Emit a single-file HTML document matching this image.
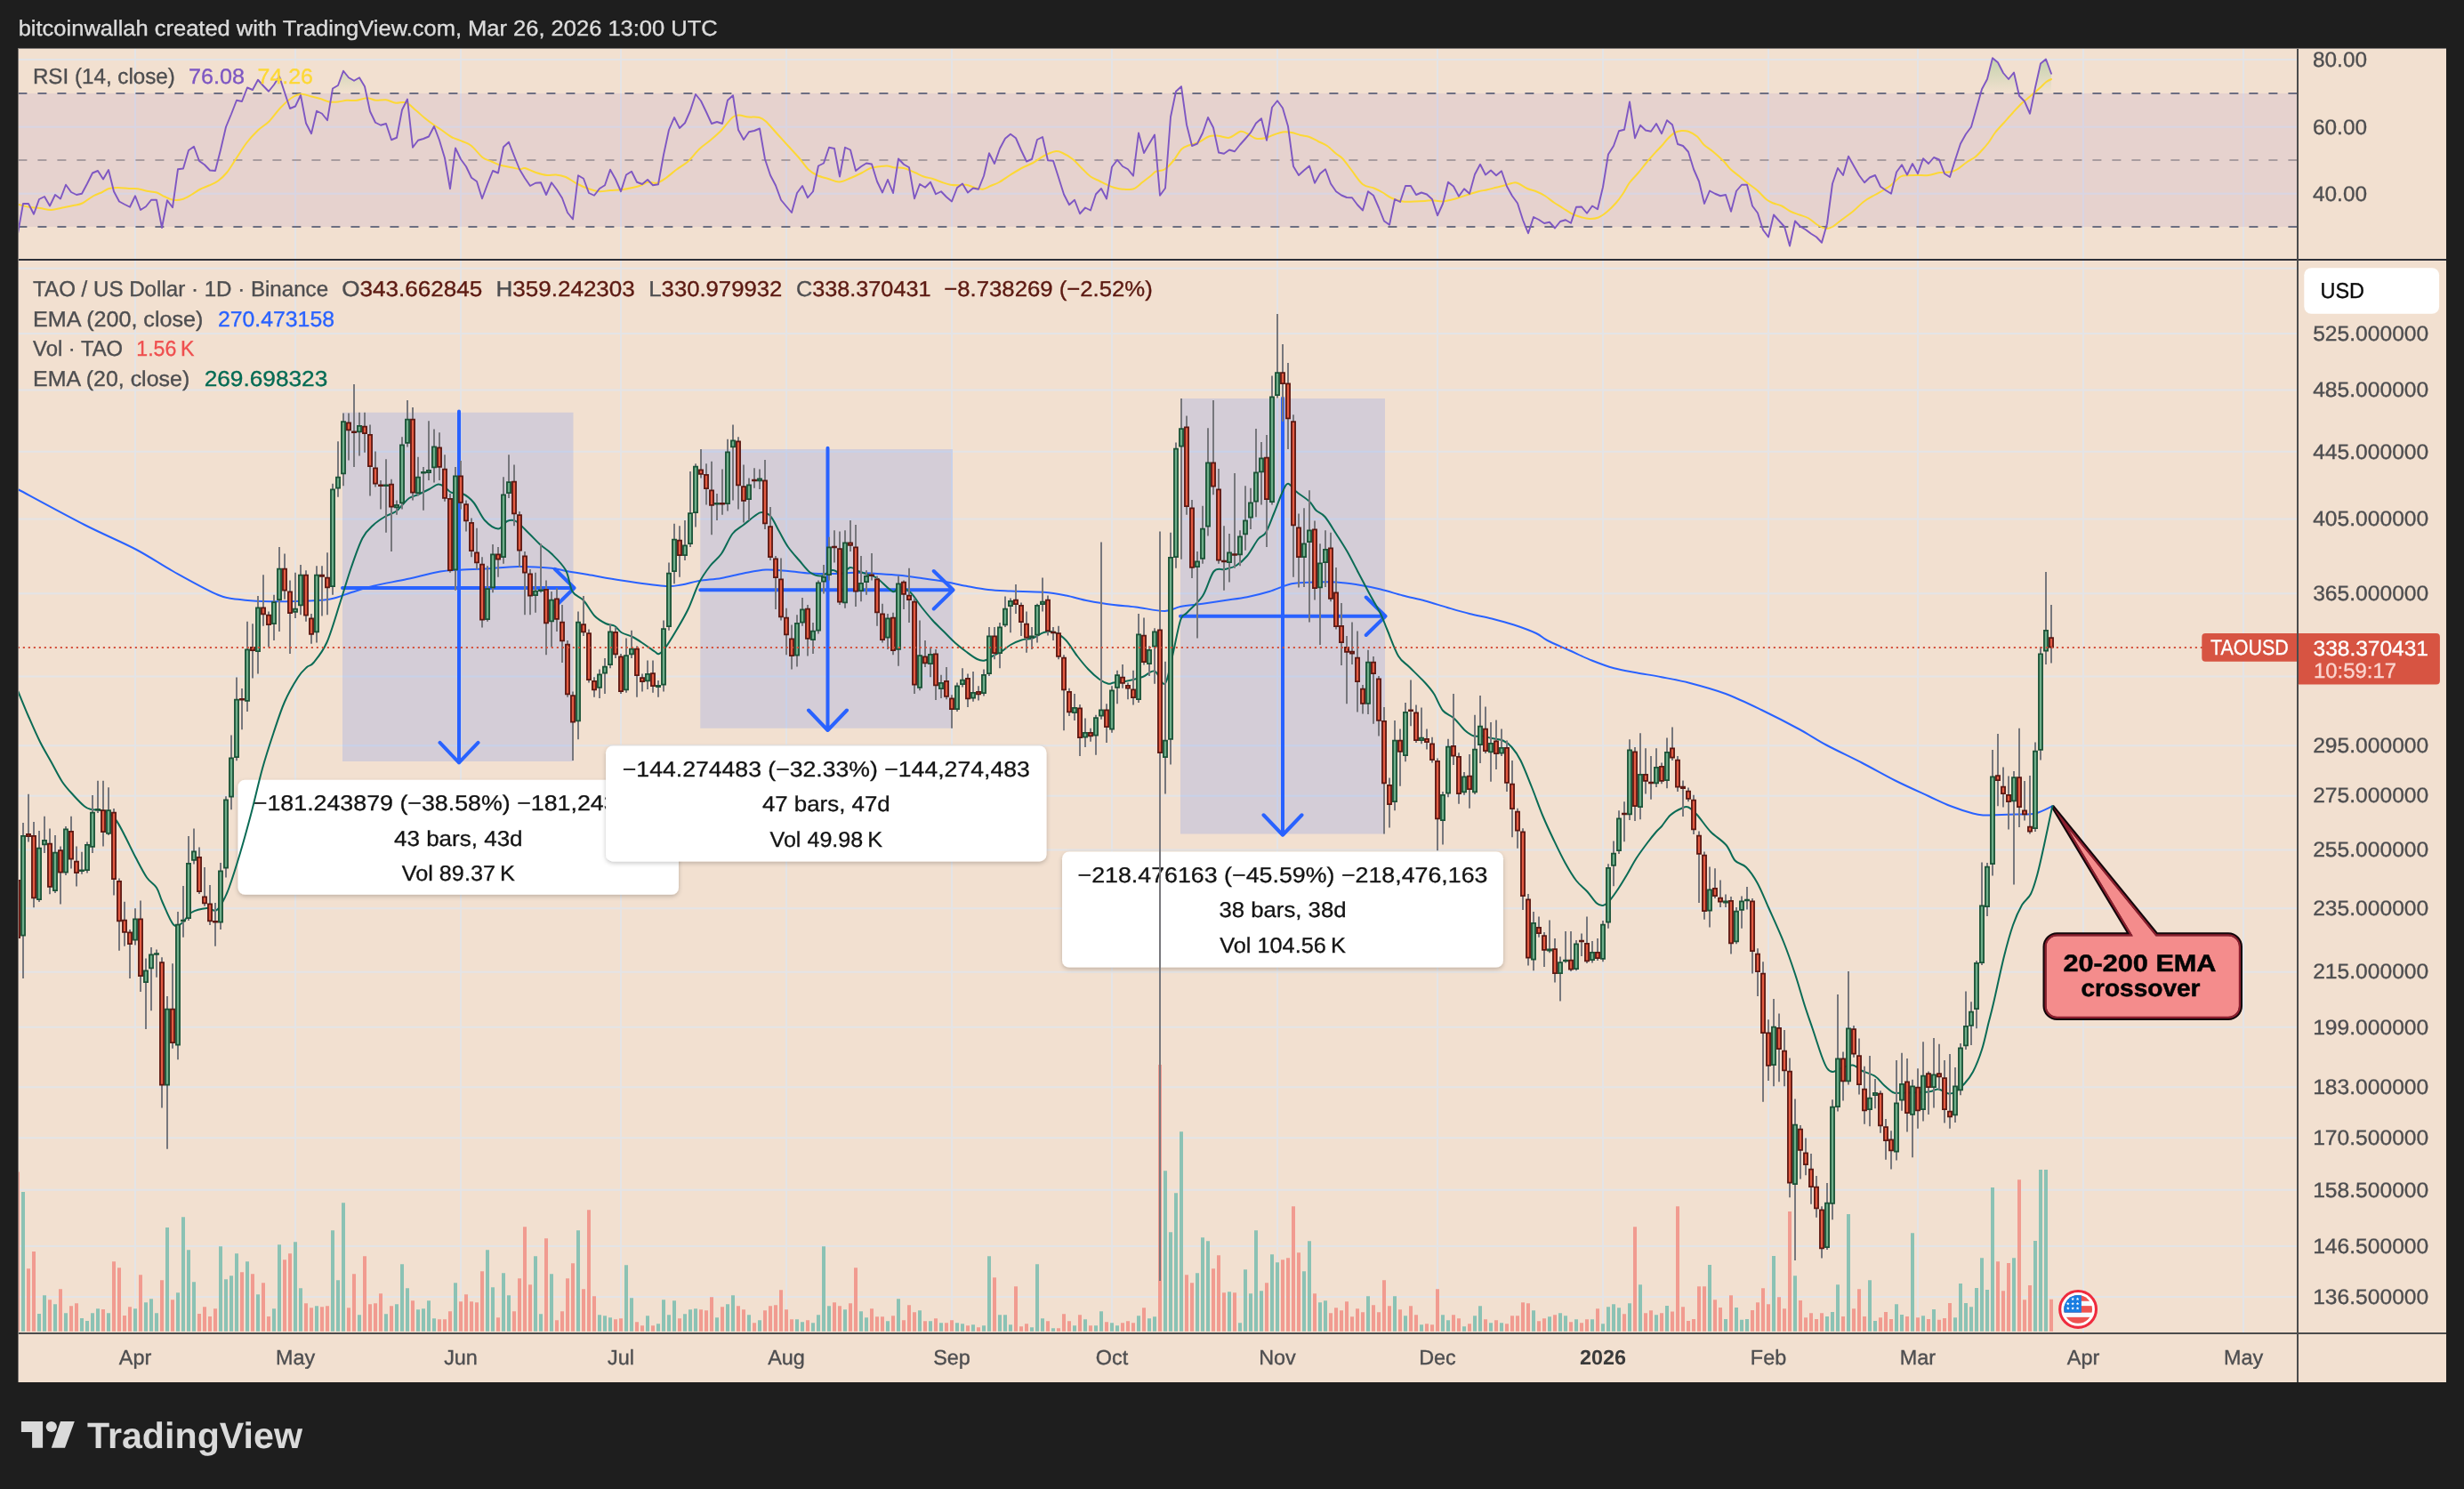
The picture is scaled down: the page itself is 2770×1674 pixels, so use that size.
<!DOCTYPE html>
<html><head><meta charset="utf-8"><title>TAOUSD chart</title>
<style>html,body{margin:0;padding:0;background:#1e1e1e;}body{width:2770px;height:1674px;position:relative;overflow:hidden;font-family:"Liberation Sans", sans-serif;}</style>
</head><body>
<svg width="2770" height="1674" viewBox="0 0 2770 1674" style="position:absolute;left:0;top:0;will-change:transform" text-rendering="geometricPrecision" font-family='"Liberation Sans", sans-serif'>
<defs>
<clipPath id="cm"><rect x="20" y="293" width="2562" height="1205"/></clipPath>
<clipPath id="cr"><rect x="20" y="54" width="2562" height="237"/></clipPath>
<clipPath id="ct"><rect x="20" y="54" width="2562" height="51"/></clipPath>
<clipPath id="cb"><rect x="20" y="255" width="2562" height="36"/></clipPath>
<linearGradient id="gg" gradientUnits="userSpaceOnUse" x1="0" y1="-8" x2="0" y2="105"><stop offset="0" stop-color="#4caf50" stop-opacity="0.8"/><stop offset="1" stop-color="#4caf50" stop-opacity="0"/></linearGradient>
<linearGradient id="gr" gradientUnits="userSpaceOnUse" x1="0" y1="255" x2="0" y2="368"><stop offset="0" stop-color="#ff5252" stop-opacity="0"/><stop offset="1" stop-color="#ff5252" stop-opacity="0.8"/></linearGradient>
<filter id="sh" x="-5%" y="-10%" width="110%" height="130%"><feDropShadow dx="0" dy="2" stdDeviation="2.5" flood-color="#000" flood-opacity="0.22"/></filter>
<clipPath id="cf"><circle cx="2336.1" cy="1471.95" r="15.9"/></clipPath>
</defs>
<rect width="2770" height="1674" fill="#1e1e1e"/>
<rect x="20" y="54" width="2730" height="1500" fill="#f2e0d0"/>
<path d="M151 54h2v237h-2zM151 293h2v1205h-2zM331 54h2v237h-2zM331 293h2v1205h-2zM517 54h2v237h-2zM517 293h2v1205h-2zM697 54h2v237h-2zM697 293h2v1205h-2zM883 54h2v237h-2zM883 293h2v1205h-2zM1069 54h2v237h-2zM1069 293h2v1205h-2zM1249 54h2v237h-2zM1249 293h2v1205h-2zM1435 54h2v237h-2zM1435 293h2v1205h-2zM1615 54h2v237h-2zM1615 293h2v1205h-2zM1801 54h2v237h-2zM1801 293h2v1205h-2zM1987 54h2v237h-2zM1987 293h2v1205h-2zM2155 54h2v237h-2zM2155 293h2v1205h-2zM2341 54h2v237h-2zM2341 293h2v1205h-2zM2521 54h2v237h-2zM2521 293h2v1205h-2zM20 66h2562v2h-2562zM20 141.75h2562v2h-2562zM20 216.75h2562v2h-2562zM20 300.76h2562v2h-2562zM20 373.9h2562v2h-2562zM20 437.62h2562v2h-2562zM20 506.82h2562v2h-2562zM20 582.55h2562v2h-2562zM20 666.15h2562v2h-2562zM20 759.48h2562v2h-2562zM20 837.34h2562v2h-2562zM20 893.79h2562v2h-2562zM20 954.5h2562v2h-2562zM20 1020.17h2562v2h-2562zM20 1091.68h2562v2h-2562zM20 1153.86h2562v2h-2562zM20 1221.25h2562v2h-2562zM20 1278.13h2562v2h-2562zM20 1336.81h2562v2h-2562zM20 1400.1h2562v2h-2562zM20 1456.95h2562v2h-2562z" fill="#e4e4e6"/>
<rect x="20" y="105" width="2562" height="150" fill="#7e57c2" fill-opacity="0.1"/>
<path d="M20.4 105H2582" stroke="#6d6f82" stroke-width="2" stroke-dasharray="10 12"/>
<path d="M20.4 255H2582" stroke="#6d6f82" stroke-width="2" stroke-dasharray="10 12"/>
<path d="M20.4 180H2582" stroke="#a89c9f" stroke-width="2" stroke-dasharray="10 12"/>
<polygon clip-path="url(#ct)" points="20,105 20,262.75 26,229 32,229 38,240.75 44,224 50,221 56,231.5 62,219 68,223.5 74,207.75 80,216 86,219 92,217.75 98,206.5 104,194.5 110,192 116,201.5 122,191 128,215.25 134,226.5 140,229.75 146,232.75 152,220.25 158,236 164,232.25 170,224.75 176,224.75 182,256 188,225.25 194,233.25 200,190.25 206,189.5 212,169 218,164.75 224,181 230,185.25 236,191.5 242,192 248,168.5 254,142.75 260,128.25 266,112.75 272,114 278,98.5 284,101 290,89.75 296,96.5 302,102.75 308,95.25 314,85.75 320,104 326,122 332,119.5 338,107 344,138.5 350,150.25 356,124.75 362,127.75 368,135.25 374,99.5 380,96 386,79.75 392,87.25 398,90.75 404,87.25 410,97.25 416,125.25 422,137.75 428,140.75 434,139 440,157.25 446,154.75 452,123.5 458,111.5 464,165.75 470,157.75 476,156 482,153.5 488,142 494,157.75 500,177.75 506,212.25 512,166.5 518,179 524,187.25 530,199.75 536,204 542,223.25 548,207 554,192 560,194.5 566,165.25 572,159.75 578,175.25 584,190.25 590,200.25 596,209 602,205.75 608,205.25 614,219 620,205.25 626,213.25 632,222.75 638,239 644,246.5 650,197.25 656,200.75 662,217 668,219.75 674,212 680,208.25 686,190.75 692,201.5 698,215.25 704,196.5 710,192.75 716,204.75 722,207 728,202 734,208.25 740,207.25 746,174 752,146 758,132 764,144 770,138.25 776,124.5 782,106 788,113.5 794,126 800,139 806,137 812,139 818,112.75 824,107.25 830,146 836,157 842,148.25 848,147 854,144.5 860,179 866,197 872,208.5 878,224.75 884,232 890,239 896,217 902,209 908,222.25 914,215.25 920,186.5 926,183.5 932,165.75 938,167 944,198.5 950,165.75 956,168.5 962,192 968,187.25 974,183.5 980,184.5 986,204 992,216.5 998,202 1004,217 1010,178.5 1016,184.75 1022,188.25 1028,223.25 1034,207 1040,210.75 1046,204.75 1052,218.25 1058,215.25 1064,221.5 1070,226.5 1076,211 1082,206.5 1088,216.5 1094,211.5 1100,212.75 1106,197.75 1112,172.25 1118,184 1124,167 1130,155.75 1136,150.75 1142,155.25 1148,169 1154,181.5 1160,179 1166,157 1172,154 1178,180.25 1184,180.75 1190,199.5 1196,218.5 1202,230.25 1208,224.75 1214,240.25 1220,233.5 1226,236.5 1232,218.25 1238,212 1244,223.5 1250,187.75 1256,179.75 1262,187 1268,190.25 1274,197.75 1280,149.5 1286,172 1292,161.5 1298,151.5 1304,219.75 1310,211.5 1316,131.5 1322,102.75 1328,97.25 1334,140.25 1340,164 1346,161.5 1352,149.5 1358,132 1364,143.5 1370,171.5 1376,172.75 1382,168.5 1388,170.25 1394,162.75 1400,156 1406,149 1412,138.5 1418,133.25 1424,157.75 1430,120.75 1436,113.25 1442,121.5 1448,142 1454,187 1460,197 1466,191.5 1472,186.5 1478,205.75 1484,195.25 1490,190.25 1496,206.5 1502,215.25 1508,219.5 1514,222 1520,222.25 1526,230.25 1532,236.5 1538,215.25 1544,219.75 1550,233.5 1556,248.5 1562,252.75 1568,224 1574,227 1580,209 1586,209 1592,219 1598,216.5 1604,218.5 1610,224 1616,242.25 1622,229 1628,204.75 1634,209.5 1640,220.75 1646,212.25 1652,217.75 1658,196 1664,184.75 1670,196.5 1676,191.5 1682,197.25 1688,192.25 1694,209.5 1700,220.25 1706,228.5 1712,247.25 1718,262.25 1724,244 1730,247 1736,251 1742,249.75 1748,256.5 1754,249 1760,247.25 1766,250.75 1772,232.75 1778,232.5 1784,239.75 1790,231.5 1796,235.25 1802,210.25 1808,173.5 1814,164 1820,147.25 1826,145.75 1832,114.5 1838,155.25 1844,140.75 1850,146.5 1856,147.75 1862,139 1868,150.25 1874,135.25 1880,140.25 1886,162 1892,164 1898,170.75 1904,190.25 1910,204 1916,229 1922,214.5 1928,217.75 1934,220.25 1940,219 1946,237.75 1952,214.75 1958,207.75 1964,207.75 1970,231.5 1976,239.5 1982,258.5 1988,266.5 1994,241.5 2000,248.25 2006,254.75 2012,276.5 2018,248.5 2024,254.75 2030,258.25 2036,262.75 2042,266.5 2048,272.75 2054,251.5 2060,206.5 2066,189 2072,197 2078,175.75 2084,186.5 2090,197 2096,205.25 2102,199.5 2108,197 2114,209.75 2120,214 2126,217.75 2132,193.5 2138,185.25 2144,196.5 2150,184 2156,195.25 2162,178.25 2168,184 2174,177 2180,179.5 2186,195.25 2192,199 2198,179.75 2204,161.5 2210,150.75 2216,142.75 2222,121.5 2228,100.25 2234,89 2240,65.25 2246,70.25 2252,82 2258,89 2264,81.5 2270,107.75 2276,114 2282,127.75 2288,98.5 2294,71.5 2300,66.5 2306,82.75 2306,105" fill="url(#gg)"/>
<polygon clip-path="url(#cb)" points="20,255 20,262.75 26,229 32,229 38,240.75 44,224 50,221 56,231.5 62,219 68,223.5 74,207.75 80,216 86,219 92,217.75 98,206.5 104,194.5 110,192 116,201.5 122,191 128,215.25 134,226.5 140,229.75 146,232.75 152,220.25 158,236 164,232.25 170,224.75 176,224.75 182,256 188,225.25 194,233.25 200,190.25 206,189.5 212,169 218,164.75 224,181 230,185.25 236,191.5 242,192 248,168.5 254,142.75 260,128.25 266,112.75 272,114 278,98.5 284,101 290,89.75 296,96.5 302,102.75 308,95.25 314,85.75 320,104 326,122 332,119.5 338,107 344,138.5 350,150.25 356,124.75 362,127.75 368,135.25 374,99.5 380,96 386,79.75 392,87.25 398,90.75 404,87.25 410,97.25 416,125.25 422,137.75 428,140.75 434,139 440,157.25 446,154.75 452,123.5 458,111.5 464,165.75 470,157.75 476,156 482,153.5 488,142 494,157.75 500,177.75 506,212.25 512,166.5 518,179 524,187.25 530,199.75 536,204 542,223.25 548,207 554,192 560,194.5 566,165.25 572,159.75 578,175.25 584,190.25 590,200.25 596,209 602,205.75 608,205.25 614,219 620,205.25 626,213.25 632,222.75 638,239 644,246.5 650,197.25 656,200.75 662,217 668,219.75 674,212 680,208.25 686,190.75 692,201.5 698,215.25 704,196.5 710,192.75 716,204.75 722,207 728,202 734,208.25 740,207.25 746,174 752,146 758,132 764,144 770,138.25 776,124.5 782,106 788,113.5 794,126 800,139 806,137 812,139 818,112.75 824,107.25 830,146 836,157 842,148.25 848,147 854,144.5 860,179 866,197 872,208.5 878,224.75 884,232 890,239 896,217 902,209 908,222.25 914,215.25 920,186.5 926,183.5 932,165.75 938,167 944,198.5 950,165.75 956,168.5 962,192 968,187.25 974,183.5 980,184.5 986,204 992,216.5 998,202 1004,217 1010,178.5 1016,184.75 1022,188.25 1028,223.25 1034,207 1040,210.75 1046,204.75 1052,218.25 1058,215.25 1064,221.5 1070,226.5 1076,211 1082,206.5 1088,216.5 1094,211.5 1100,212.75 1106,197.75 1112,172.25 1118,184 1124,167 1130,155.75 1136,150.75 1142,155.25 1148,169 1154,181.5 1160,179 1166,157 1172,154 1178,180.25 1184,180.75 1190,199.5 1196,218.5 1202,230.25 1208,224.75 1214,240.25 1220,233.5 1226,236.5 1232,218.25 1238,212 1244,223.5 1250,187.75 1256,179.75 1262,187 1268,190.25 1274,197.75 1280,149.5 1286,172 1292,161.5 1298,151.5 1304,219.75 1310,211.5 1316,131.5 1322,102.75 1328,97.25 1334,140.25 1340,164 1346,161.5 1352,149.5 1358,132 1364,143.5 1370,171.5 1376,172.75 1382,168.5 1388,170.25 1394,162.75 1400,156 1406,149 1412,138.5 1418,133.25 1424,157.75 1430,120.75 1436,113.25 1442,121.5 1448,142 1454,187 1460,197 1466,191.5 1472,186.5 1478,205.75 1484,195.25 1490,190.25 1496,206.5 1502,215.25 1508,219.5 1514,222 1520,222.25 1526,230.25 1532,236.5 1538,215.25 1544,219.75 1550,233.5 1556,248.5 1562,252.75 1568,224 1574,227 1580,209 1586,209 1592,219 1598,216.5 1604,218.5 1610,224 1616,242.25 1622,229 1628,204.75 1634,209.5 1640,220.75 1646,212.25 1652,217.75 1658,196 1664,184.75 1670,196.5 1676,191.5 1682,197.25 1688,192.25 1694,209.5 1700,220.25 1706,228.5 1712,247.25 1718,262.25 1724,244 1730,247 1736,251 1742,249.75 1748,256.5 1754,249 1760,247.25 1766,250.75 1772,232.75 1778,232.5 1784,239.75 1790,231.5 1796,235.25 1802,210.25 1808,173.5 1814,164 1820,147.25 1826,145.75 1832,114.5 1838,155.25 1844,140.75 1850,146.5 1856,147.75 1862,139 1868,150.25 1874,135.25 1880,140.25 1886,162 1892,164 1898,170.75 1904,190.25 1910,204 1916,229 1922,214.5 1928,217.75 1934,220.25 1940,219 1946,237.75 1952,214.75 1958,207.75 1964,207.75 1970,231.5 1976,239.5 1982,258.5 1988,266.5 1994,241.5 2000,248.25 2006,254.75 2012,276.5 2018,248.5 2024,254.75 2030,258.25 2036,262.75 2042,266.5 2048,272.75 2054,251.5 2060,206.5 2066,189 2072,197 2078,175.75 2084,186.5 2090,197 2096,205.25 2102,199.5 2108,197 2114,209.75 2120,214 2126,217.75 2132,193.5 2138,185.25 2144,196.5 2150,184 2156,195.25 2162,178.25 2168,184 2174,177 2180,179.5 2186,195.25 2192,199 2198,179.75 2204,161.5 2210,150.75 2216,142.75 2222,121.5 2228,100.25 2234,89 2240,65.25 2246,70.25 2252,82 2258,89 2264,81.5 2270,107.75 2276,114 2282,127.75 2288,98.5 2294,71.5 2300,66.5 2306,82.75 2306,255" fill="url(#gr)"/>
<g clip-path="url(#cr)" fill="none" stroke-linejoin="round" stroke-linecap="round">
<path d="M20 229.75C22.08 230.25 28.33 232.04 32.5 232.75C36.67 233.46 40.83 233.46 45 234C49.17 234.54 53.33 236.08 57.5 236C61.67 235.92 65.83 234.33 70 233.5C74.17 232.67 78.75 231.83 82.5 231C86.25 230.17 88.75 230.29 92.5 228.5C96.25 226.71 101.25 222.33 105 220.25C108.75 218.17 112.08 217.38 115 216C117.92 214.62 119.58 212.83 122.5 212C125.42 211.17 128.75 211 132.5 211C136.25 211 141.25 211.79 145 212C148.75 212.21 151.67 211.79 155 212.25C158.33 212.71 161.46 214.04 165 214.75C168.54 215.46 172.92 215.46 176.25 216.5C179.58 217.54 181.88 219.62 185 221C188.12 222.38 191.67 224.25 195 224.75C198.33 225.25 201.67 224.96 205 224C208.33 223.04 211.67 220.88 215 219C218.33 217.12 221.67 214.5 225 212.75C228.33 211 231.67 210.04 235 208.5C238.33 206.96 241.67 205.92 245 203.5C248.33 201.08 251.67 198.08 255 194C258.33 189.92 261.25 184.62 265 179C268.75 173.38 273.33 165.67 277.5 160.25C281.67 154.83 285.83 150.46 290 146.5C294.17 142.54 298.33 140.67 302.5 136.5C306.67 132.33 310.83 125.88 315 121.5C319.17 117.12 323.54 112.88 327.5 110.25C331.46 107.62 335 106.04 338.75 105.75C342.5 105.46 346.46 107.62 350 108.5C353.54 109.38 356.67 110 360 111C363.33 112 366.67 113.92 370 114.5C373.33 115.08 376.67 114.79 380 114.5C383.33 114.21 386.67 113 390 112.75C393.33 112.5 396.25 113.42 400 113C403.75 112.58 408.75 110.29 412.5 110.25C416.25 110.21 418.96 112.42 422.5 112.75C426.04 113.08 430 111.75 433.75 112.25C437.5 112.75 441.25 115.25 445 115.75C448.75 116.25 452.5 113.88 456.25 115.25C460 116.62 463.96 121.08 467.5 124C471.04 126.92 474.17 130.04 477.5 132.75C480.83 135.46 484.17 137.88 487.5 140.25C490.83 142.62 494.17 144.71 497.5 147C500.83 149.29 503.75 152 507.5 154C511.25 156 516.25 157.33 520 159C523.75 160.67 526.25 161 530 164C533.75 167 538.75 174.08 542.5 177C546.25 179.92 549.17 180.04 552.5 181.5C555.83 182.96 558.75 184.62 562.5 185.75C566.25 186.88 571.25 187.5 575 188.25C578.75 189 582.5 190.12 585 190.25C587.5 190.38 587.08 188.38 590 189C592.92 189.62 598.33 192.67 602.5 194C606.67 195.33 611.25 196.58 615 197C618.75 197.42 621.5 196.17 625 196.5C628.5 196.83 632.08 197.33 636 199C639.92 200.67 644.33 204.33 648.5 206.5C652.67 208.67 656.83 210.54 661 212C665.17 213.46 669.33 214.92 673.5 215.25C677.67 215.58 681.83 214.33 686 214C690.17 213.67 694.33 213.75 698.5 213.25C702.67 212.75 707.25 211.83 711 211C714.75 210.17 718.08 209.29 721 208.25C723.92 207.21 725.58 205.17 728.5 204.75C731.42 204.33 735.17 206.5 738.5 205.75C741.83 205 744.75 202.83 748.5 200.25C752.25 197.67 756.83 193.38 761 190.25C765.17 187.12 769.33 185.25 773.5 181.5C777.67 177.75 781.83 171.71 786 167.75C790.17 163.79 794.33 161.29 798.5 157.75C802.67 154.21 806.83 150.79 811 146.5C815.17 142.21 820.17 134.83 823.5 132C826.83 129.17 828.08 129.58 831 129.5C833.92 129.42 837.25 131.08 841 131.5C844.75 131.92 850.17 131.17 853.5 132C856.83 132.83 857.67 133.46 861 136.5C864.33 139.54 869.33 145.67 873.5 150.25C877.67 154.83 881.83 159.42 886 164C890.17 168.58 894.75 173.38 898.5 177.75C902.25 182.12 905.17 187.04 908.5 190.25C911.83 193.46 914.75 195.21 918.5 197C922.25 198.79 926.83 199.75 931 201C935.17 202.25 939.33 204.62 943.5 204.5C947.67 204.38 951.83 201.92 956 200.25C960.17 198.58 964.75 196.38 968.5 194.5C972.25 192.62 975.17 190.21 978.5 189C981.83 187.79 985.38 187.67 988.5 187.25C991.62 186.83 994.33 186.29 997.25 186.5C1000.17 186.71 1002.88 188.08 1006 188.5C1009.12 188.92 1012.25 188.08 1016 189C1019.75 189.92 1024.75 192.42 1028.5 194C1032.25 195.58 1035.17 197.33 1038.5 198.5C1041.83 199.67 1045.17 199.96 1048.5 201C1051.83 202.04 1055.17 203.62 1058.5 204.75C1061.83 205.88 1065.17 207.17 1068.5 207.75C1071.83 208.33 1075.58 208.25 1078.5 208.25C1081.42 208.25 1083.08 207.29 1086 207.75C1088.92 208.21 1092.88 210.17 1096 211C1099.12 211.83 1101.83 213.08 1104.75 212.75C1107.67 212.42 1110.38 210.33 1113.5 209C1116.62 207.67 1119.75 206.83 1123.5 204.75C1127.25 202.67 1131.83 199.12 1136 196.5C1140.17 193.88 1144.33 191.21 1148.5 189C1152.67 186.79 1156.83 185.54 1161 183.25C1165.17 180.96 1169.33 177.42 1173.5 175.25C1177.67 173.08 1182.67 170.88 1186 170.25C1189.33 169.62 1190.17 170.04 1193.5 171.5C1196.83 172.96 1202.25 176.08 1206 179C1209.75 181.92 1212.67 185.75 1216 189C1219.33 192.25 1222.67 196.08 1226 198.5C1229.33 200.92 1232.67 201.83 1236 203.5C1239.33 205.17 1243.33 207.29 1246 208.5C1248.67 209.71 1249.33 210.04 1252 210.75C1254.67 211.46 1258.25 212.5 1262 212.75C1265.75 213 1270.75 213.58 1274.5 212.25C1278.25 210.92 1281.17 207.29 1284.5 204.75C1287.83 202.21 1292 199 1294.5 197C1297 195 1297 193.88 1299.5 192.75C1302 191.62 1306.17 192.33 1309.5 190.25C1312.83 188.17 1316.38 184 1319.5 180.25C1322.62 176.5 1325.33 170.58 1328.25 167.75C1331.17 164.92 1333.88 164.5 1337 163.25C1340.12 162 1343.25 161.92 1347 160.25C1350.75 158.58 1355.75 154.5 1359.5 153.25C1363.25 152 1365.75 152.5 1369.5 152.75C1373.25 153 1377.83 155.58 1382 154.75C1386.17 153.92 1391.17 148.5 1394.5 147.75C1397.83 147 1399.08 148.92 1402 150.25C1404.92 151.58 1408.67 154.92 1412 155.75C1415.33 156.58 1418.67 155.96 1422 155.25C1425.33 154.54 1428.67 152.62 1432 151.5C1435.33 150.38 1438.67 148.92 1442 148.5C1445.33 148.08 1448.67 148.42 1452 149C1455.33 149.58 1458.67 151.17 1462 152C1465.33 152.83 1468.67 152.83 1472 154C1475.33 155.17 1478.67 157.33 1482 159C1485.33 160.67 1488.67 161.71 1492 164C1495.33 166.29 1499.08 170.33 1502 172.75C1504.92 175.17 1506.58 175.38 1509.5 178.5C1512.42 181.62 1515.75 186.71 1519.5 191.5C1523.25 196.29 1527.83 203.92 1532 207.25C1536.17 210.58 1540.75 209.96 1544.5 211.5C1548.25 213.04 1551.17 214.62 1554.5 216.5C1557.83 218.38 1560.75 221.08 1564.5 222.75C1568.25 224.42 1572.83 225.88 1577 226.5C1581.17 227.12 1585.33 226.58 1589.5 226.5C1593.67 226.42 1598.67 226.21 1602 226C1605.33 225.79 1606.17 225.17 1609.5 225.25C1612.83 225.33 1618.25 226.62 1622 226.5C1625.75 226.38 1628.67 225.33 1632 224.5C1635.33 223.67 1638.67 222.54 1642 221.5C1645.33 220.46 1648.67 219.29 1652 218.25C1655.33 217.21 1658.67 216.08 1662 215.25C1665.33 214.42 1668.67 214 1672 213.25C1675.33 212.5 1678.67 211.58 1682 210.75C1685.33 209.92 1689.08 209.04 1692 208.25C1694.92 207.46 1697.21 206.42 1699.5 206C1701.79 205.58 1702.83 204.75 1705.75 205.75C1708.67 206.75 1713.46 210.42 1717 212C1720.54 213.58 1723.67 213.88 1727 215.25C1730.33 216.62 1733.67 218.17 1737 220.25C1740.33 222.33 1743.67 225.46 1747 227.75C1750.33 230.04 1753.67 231.92 1757 234C1760.33 236.08 1763.67 238.58 1767 240.25C1770.33 241.92 1773.67 243.04 1777 244C1780.33 244.96 1783.67 245.92 1787 246C1790.33 246.08 1793.67 245.88 1797 244.5C1800.33 243.12 1803.67 240.54 1807 237.75C1810.33 234.96 1814.08 231.08 1817 227.75C1819.92 224.42 1822 221.5 1824.5 217.75C1827 214 1829.08 209.21 1832 205.25C1834.92 201.29 1838.67 197.96 1842 194C1845.33 190.04 1848.67 185.46 1852 181.5C1855.33 177.54 1859.33 173.17 1862 170.25C1864.67 167.33 1865.75 166.5 1868 164C1870.25 161.5 1873 157.75 1875.5 155.25C1878 152.75 1880.5 150.38 1883 149C1885.5 147.62 1888 147.21 1890.5 147C1893 146.79 1895.08 146.67 1898 147.75C1900.92 148.83 1905.08 151 1908 153.5C1910.92 156 1912.58 159.96 1915.5 162.75C1918.42 165.54 1921.75 167.12 1925.5 170.25C1929.25 173.38 1934.67 178.17 1938 181.5C1941.33 184.83 1942.58 187.46 1945.5 190.25C1948.42 193.04 1952.17 195.54 1955.5 198.25C1958.83 200.96 1962.17 203.88 1965.5 206.5C1968.83 209.12 1972.17 211.08 1975.5 214C1978.83 216.92 1982.58 221.62 1985.5 224C1988.42 226.38 1990.08 227 1993 228.25C1995.92 229.5 1999.67 229.92 2003 231.5C2006.33 233.08 2009.67 236.08 2013 237.75C2016.33 239.42 2019.67 240.25 2023 241.5C2026.33 242.75 2029.67 243.38 2033 245.25C2036.33 247.12 2039.67 250.79 2043 252.75C2046.33 254.71 2050.08 256.67 2053 257C2055.92 257.33 2057.58 256.42 2060.5 254.75C2063.42 253.08 2066.75 249.83 2070.5 247C2074.25 244.17 2078.83 241.17 2083 237.75C2087.17 234.33 2091.33 229.62 2095.5 226.5C2099.67 223.38 2104.25 221.21 2108 219C2111.75 216.79 2115.08 215 2118 213.25C2120.92 211.5 2122.38 210.96 2125.5 208.5C2128.62 206.04 2133.42 200.38 2136.75 198.5C2140.08 196.62 2142.38 197.5 2145.5 197.25C2148.62 197 2151.75 197.04 2155.5 197C2159.25 196.96 2163.83 197.5 2168 197C2172.17 196.5 2176.33 194.62 2180.5 194C2184.67 193.38 2189.67 193.88 2193 193.25C2196.33 192.62 2197.58 192 2200.5 190.25C2203.42 188.5 2207.17 185.04 2210.5 182.75C2213.83 180.46 2217.58 178.79 2220.5 176.5C2223.42 174.21 2225.5 171.71 2228 169C2230.5 166.29 2233 163.58 2235.5 160.25C2238 156.92 2240.08 152.75 2243 149C2245.92 145.25 2249.67 141.5 2253 137.75C2256.33 134 2259.67 130.12 2263 126.5C2266.33 122.88 2269.67 119.12 2273 116C2276.33 112.88 2279.67 110.58 2283 107.75C2286.33 104.92 2290.08 101.62 2293 99C2295.92 96.38 2298.33 93.67 2300.5 92C2302.67 90.33 2305.08 89.5 2306 89" stroke="#fdd835" stroke-width="2"/>
<polyline points="20,262.75 26,229 32,229 38,240.75 44,224 50,221 56,231.5 62,219 68,223.5 74,207.75 80,216 86,219 92,217.75 98,206.5 104,194.5 110,192 116,201.5 122,191 128,215.25 134,226.5 140,229.75 146,232.75 152,220.25 158,236 164,232.25 170,224.75 176,224.75 182,256 188,225.25 194,233.25 200,190.25 206,189.5 212,169 218,164.75 224,181 230,185.25 236,191.5 242,192 248,168.5 254,142.75 260,128.25 266,112.75 272,114 278,98.5 284,101 290,89.75 296,96.5 302,102.75 308,95.25 314,85.75 320,104 326,122 332,119.5 338,107 344,138.5 350,150.25 356,124.75 362,127.75 368,135.25 374,99.5 380,96 386,79.75 392,87.25 398,90.75 404,87.25 410,97.25 416,125.25 422,137.75 428,140.75 434,139 440,157.25 446,154.75 452,123.5 458,111.5 464,165.75 470,157.75 476,156 482,153.5 488,142 494,157.75 500,177.75 506,212.25 512,166.5 518,179 524,187.25 530,199.75 536,204 542,223.25 548,207 554,192 560,194.5 566,165.25 572,159.75 578,175.25 584,190.25 590,200.25 596,209 602,205.75 608,205.25 614,219 620,205.25 626,213.25 632,222.75 638,239 644,246.5 650,197.25 656,200.75 662,217 668,219.75 674,212 680,208.25 686,190.75 692,201.5 698,215.25 704,196.5 710,192.75 716,204.75 722,207 728,202 734,208.25 740,207.25 746,174 752,146 758,132 764,144 770,138.25 776,124.5 782,106 788,113.5 794,126 800,139 806,137 812,139 818,112.75 824,107.25 830,146 836,157 842,148.25 848,147 854,144.5 860,179 866,197 872,208.5 878,224.75 884,232 890,239 896,217 902,209 908,222.25 914,215.25 920,186.5 926,183.5 932,165.75 938,167 944,198.5 950,165.75 956,168.5 962,192 968,187.25 974,183.5 980,184.5 986,204 992,216.5 998,202 1004,217 1010,178.5 1016,184.75 1022,188.25 1028,223.25 1034,207 1040,210.75 1046,204.75 1052,218.25 1058,215.25 1064,221.5 1070,226.5 1076,211 1082,206.5 1088,216.5 1094,211.5 1100,212.75 1106,197.75 1112,172.25 1118,184 1124,167 1130,155.75 1136,150.75 1142,155.25 1148,169 1154,181.5 1160,179 1166,157 1172,154 1178,180.25 1184,180.75 1190,199.5 1196,218.5 1202,230.25 1208,224.75 1214,240.25 1220,233.5 1226,236.5 1232,218.25 1238,212 1244,223.5 1250,187.75 1256,179.75 1262,187 1268,190.25 1274,197.75 1280,149.5 1286,172 1292,161.5 1298,151.5 1304,219.75 1310,211.5 1316,131.5 1322,102.75 1328,97.25 1334,140.25 1340,164 1346,161.5 1352,149.5 1358,132 1364,143.5 1370,171.5 1376,172.75 1382,168.5 1388,170.25 1394,162.75 1400,156 1406,149 1412,138.5 1418,133.25 1424,157.75 1430,120.75 1436,113.25 1442,121.5 1448,142 1454,187 1460,197 1466,191.5 1472,186.5 1478,205.75 1484,195.25 1490,190.25 1496,206.5 1502,215.25 1508,219.5 1514,222 1520,222.25 1526,230.25 1532,236.5 1538,215.25 1544,219.75 1550,233.5 1556,248.5 1562,252.75 1568,224 1574,227 1580,209 1586,209 1592,219 1598,216.5 1604,218.5 1610,224 1616,242.25 1622,229 1628,204.75 1634,209.5 1640,220.75 1646,212.25 1652,217.75 1658,196 1664,184.75 1670,196.5 1676,191.5 1682,197.25 1688,192.25 1694,209.5 1700,220.25 1706,228.5 1712,247.25 1718,262.25 1724,244 1730,247 1736,251 1742,249.75 1748,256.5 1754,249 1760,247.25 1766,250.75 1772,232.75 1778,232.5 1784,239.75 1790,231.5 1796,235.25 1802,210.25 1808,173.5 1814,164 1820,147.25 1826,145.75 1832,114.5 1838,155.25 1844,140.75 1850,146.5 1856,147.75 1862,139 1868,150.25 1874,135.25 1880,140.25 1886,162 1892,164 1898,170.75 1904,190.25 1910,204 1916,229 1922,214.5 1928,217.75 1934,220.25 1940,219 1946,237.75 1952,214.75 1958,207.75 1964,207.75 1970,231.5 1976,239.5 1982,258.5 1988,266.5 1994,241.5 2000,248.25 2006,254.75 2012,276.5 2018,248.5 2024,254.75 2030,258.25 2036,262.75 2042,266.5 2048,272.75 2054,251.5 2060,206.5 2066,189 2072,197 2078,175.75 2084,186.5 2090,197 2096,205.25 2102,199.5 2108,197 2114,209.75 2120,214 2126,217.75 2132,193.5 2138,185.25 2144,196.5 2150,184 2156,195.25 2162,178.25 2168,184 2174,177 2180,179.5 2186,195.25 2192,199 2198,179.75 2204,161.5 2210,150.75 2216,142.75 2222,121.5 2228,100.25 2234,89 2240,65.25 2246,70.25 2252,82 2258,89 2264,81.5 2270,107.75 2276,114 2282,127.75 2288,98.5 2294,71.5 2300,66.5 2306,82.75" stroke="#7e57c2" stroke-width="1.9"/>
</g>
<g clip-path="url(#cm)">
<rect x="385" y="463.75" width="259.5" height="392.25" fill="#2962ff" fill-opacity="0.15"/>
<rect x="787.25" y="505" width="283.75" height="313.75" fill="#2962ff" fill-opacity="0.15"/>
<rect x="1327" y="448" width="230" height="489.5" fill="#2962ff" fill-opacity="0.15"/>
<g fill="none" stroke="#2962ff" stroke-width="4" stroke-linecap="round" stroke-linejoin="round">
<path d="M516 462.5V857.4M494.5 834.9L516 857.4L537.5 834.9"/>
<path d="M385 661H645.5M623.75 639.75L645.5 661L623.75 682.25"/>
<path d="M930.5 503.75V821M909.0 798.5L930.5 821L952.0 798.5"/>
<path d="M787.25 663.25H1071.5M1049.75 642.0L1071.5 663.25L1049.75 684.5"/>
<path d="M1442 447.5V938.75M1420.5 916.25L1442 938.75L1463.5 916.25"/>
<path d="M1327 692.75H1557.5M1535.75 671.5L1557.5 692.75L1535.75 714.0"/>
</g>
<rect x="267.5" y="876.7" width="495.5" height="129.1" rx="8" fill="#fff" filter="url(#sh)"/>
<text x="515.3" y="911.3" font-size="24.3" fill="#131313" stroke="#131313" stroke-width="0.3" text-anchor="middle" textLength="461" lengthAdjust="spacingAndGlyphs">−181.243879 (−38.58%) −181,243,879</text>
<text x="515.3" y="950.5" font-size="24.3" fill="#131313" stroke="#131313" stroke-width="0.3" text-anchor="middle" textLength="144.6" lengthAdjust="spacingAndGlyphs">43 bars, 43d</text>
<text x="515.3" y="990.3" font-size="24.3" fill="#131313" stroke="#131313" stroke-width="0.3" text-anchor="middle" textLength="127" lengthAdjust="spacingAndGlyphs">Vol 89.37 K</text>
<rect x="681" y="838.5" width="495.5" height="129.9" rx="8" fill="#fff" filter="url(#sh)"/>
<text x="928.8" y="873.1" font-size="24.3" fill="#131313" stroke="#131313" stroke-width="0.3" text-anchor="middle" textLength="458" lengthAdjust="spacingAndGlyphs">−144.274483 (−32.33%) −144,274,483</text>
<text x="928.8" y="912.3" font-size="24.3" fill="#131313" stroke="#131313" stroke-width="0.3" text-anchor="middle" textLength="143.8" lengthAdjust="spacingAndGlyphs">47 bars, 47d</text>
<text x="928.8" y="952.1" font-size="24.3" fill="#131313" stroke="#131313" stroke-width="0.3" text-anchor="middle" textLength="126.5" lengthAdjust="spacingAndGlyphs">Vol 49.98 K</text>
<rect x="1194" y="957.5" width="496" height="130" rx="8" fill="#fff" filter="url(#sh)"/>
<text x="1442" y="992.1" font-size="24.3" fill="#131313" stroke="#131313" stroke-width="0.3" text-anchor="middle" textLength="461" lengthAdjust="spacingAndGlyphs">−218.476163 (−45.59%) −218,476,163</text>
<text x="1442" y="1031.3" font-size="24.3" fill="#131313" stroke="#131313" stroke-width="0.3" text-anchor="middle" textLength="143.25" lengthAdjust="spacingAndGlyphs">38 bars, 38d</text>
<text x="1442" y="1071.1" font-size="24.3" fill="#131313" stroke="#131313" stroke-width="0.3" text-anchor="middle" textLength="141.75" lengthAdjust="spacingAndGlyphs">Vol 104.56 K</text>
<clipPath id="cc"><path d="M2312.5 1050.3H2394L2307.25 906.25L2424.5 1050.3H2505A14 14 0 0 1 2519 1064.3V1131A14 14 0 0 1 2505 1145H2312.5A14 14 0 0 1 2298.5 1131V1064.3A14 14 0 0 1 2312.5 1050.3Z"/></clipPath>
<path d="M2312.5 1050.3H2394L2307.25 906.25L2424.5 1050.3H2505A14 14 0 0 1 2519 1064.3V1131A14 14 0 0 1 2505 1145H2312.5A14 14 0 0 1 2298.5 1131V1064.3A14 14 0 0 1 2312.5 1050.3Z" fill="#f48c8c" stroke="#12060a" stroke-width="4" stroke-linejoin="miter" stroke-miterlimit="10"/>
<path d="M2312.5 1050.3H2394L2307.25 906.25L2424.5 1050.3H2505A14 14 0 0 1 2519 1064.3V1131A14 14 0 0 1 2505 1145H2312.5A14 14 0 0 1 2298.5 1131V1064.3A14 14 0 0 1 2312.5 1050.3Z" fill="none" stroke="#8a1f2e" stroke-width="4.4" stroke-linejoin="miter" stroke-miterlimit="10" clip-path="url(#cc)"/>
<text x="2405.5" y="1092.2" font-size="26.8" font-weight="bold" fill="#050505" stroke="#050505" stroke-width="0.5" text-anchor="middle" textLength="172" lengthAdjust="spacingAndGlyphs">20-200 EMA</text>
<text x="2406.5" y="1120.2" font-size="26.8" font-weight="bold" fill="#050505" stroke="#050505" stroke-width="0.5" text-anchor="middle" textLength="134" lengthAdjust="spacingAndGlyphs">crossover</text>
<path d="M24 1340h4V1496.8h-4zM42 1477h4V1496.8h-4zM48 1456.25h4V1496.8h-4zM60 1466.25h4V1496.8h-4zM72 1476.25h4V1496.8h-4zM90 1482h4V1496.8h-4zM96 1485h4V1496.8h-4zM102 1476.25h4V1496.8h-4zM108 1471.25h4V1496.8h-4zM120 1476.25h4V1496.8h-4zM150 1471.25h4V1496.8h-4zM162 1464.25h4V1496.8h-4zM168 1460.25h4V1496.8h-4zM174 1476.25h4V1496.8h-4zM186 1380h4V1496.8h-4zM198 1453.25h4V1496.8h-4zM204 1368.25h4V1496.8h-4zM210 1405.25h4V1496.8h-4zM216 1441.25h4V1496.8h-4zM246 1401.25h4V1496.8h-4zM252 1438.25h4V1496.8h-4zM258 1434.25h4V1496.8h-4zM264 1409.25h4V1496.8h-4zM276 1418.25h4V1496.8h-4zM288 1455.25h4V1496.8h-4zM306 1471.25h4V1496.8h-4zM312 1399.25h4V1496.8h-4zM330 1396.25h4V1496.8h-4zM336 1448.25h4V1496.8h-4zM354 1468.25h4V1496.8h-4zM372 1383.25h4V1496.8h-4zM378 1439.25h4V1496.8h-4zM384 1352.25h4V1496.8h-4zM402 1478.25h4V1496.8h-4zM432 1477.25h4V1496.8h-4zM444 1466.25h4V1496.8h-4zM450 1421.25h4V1496.8h-4zM456 1448.25h4V1496.8h-4zM468 1472.25h4V1496.8h-4zM474 1471.25h4V1496.8h-4zM480 1462.25h4V1496.8h-4zM486 1482.25h4V1496.8h-4zM510 1442.25h4V1496.8h-4zM546 1405.25h4V1496.8h-4zM552 1447.25h4V1496.8h-4zM564 1431.25h4V1496.8h-4zM570 1456.25h4V1496.8h-4zM600 1412.25h4V1496.8h-4zM606 1477.25h4V1496.8h-4zM618 1432.25h4V1496.8h-4zM648 1383.25h4V1496.8h-4zM672 1478.25h4V1496.8h-4zM678 1479.25h4V1496.8h-4zM684 1481.25h4V1496.8h-4zM702 1422.25h4V1496.8h-4zM708 1459.25h4V1496.8h-4zM726 1479.25h4V1496.8h-4zM738 1488.25h4V1496.8h-4zM744 1461.25h4V1496.8h-4zM750 1478.25h4V1496.8h-4zM756 1462.25h4V1496.8h-4zM768 1477.25h4V1496.8h-4zM774 1472.25h4V1496.8h-4zM780 1471.25h4V1496.8h-4zM804 1481.25h4V1496.8h-4zM816 1466.25h4V1496.8h-4zM822 1456.25h4V1496.8h-4zM840 1478.25h4V1496.8h-4zM852 1484.25h4V1496.8h-4zM894 1483.25h4V1496.8h-4zM900 1486.25h4V1496.8h-4zM912 1487.25h4V1496.8h-4zM918 1478.25h4V1496.8h-4zM924 1401.25h4V1496.8h-4zM930 1468.25h4V1496.8h-4zM948 1472.25h4V1496.8h-4zM966 1474.25h4V1496.8h-4zM972 1481.25h4V1496.8h-4zM996 1485.25h4V1496.8h-4zM1008 1460.25h4V1496.8h-4zM1032 1473.25h4V1496.8h-4zM1044 1485.25h4V1496.8h-4zM1056 1487.25h4V1496.8h-4zM1074 1487.25h4V1496.8h-4zM1080 1488.25h4V1496.8h-4zM1092 1489.25h4V1496.8h-4zM1104 1490.25h4V1496.8h-4zM1110 1412.25h4V1496.8h-4zM1122 1478.25h4V1496.8h-4zM1128 1478.25h4V1496.8h-4zM1134 1489.25h4V1496.8h-4zM1158 1492.25h4V1496.8h-4zM1164 1421.25h4V1496.8h-4zM1170 1482.25h4V1496.8h-4zM1182 1493.25h4V1496.8h-4zM1206 1490.25h4V1496.8h-4zM1218 1483.25h4V1496.8h-4zM1230 1490.25h4V1496.8h-4zM1236 1474.25h4V1496.8h-4zM1248 1487.25h4V1496.8h-4zM1254 1490.25h4V1496.8h-4zM1278 1479.25h4V1496.8h-4zM1290 1482.25h4V1496.8h-4zM1296 1480.25h4V1496.8h-4zM1308 1316.25h4V1496.8h-4zM1314 1385.25h4V1496.8h-4zM1320 1341.25h4V1496.8h-4zM1326 1272.25h4V1496.8h-4zM1344 1431.25h4V1496.8h-4zM1350 1391.25h4V1496.8h-4zM1356 1395.25h4V1496.8h-4zM1380 1452.25h4V1496.8h-4zM1392 1487.25h4V1496.8h-4zM1398 1427.25h4V1496.8h-4zM1404 1454.25h4V1496.8h-4zM1410 1383.25h4V1496.8h-4zM1416 1451.25h4V1496.8h-4zM1428 1410.25h4V1496.8h-4zM1434 1419.25h4V1496.8h-4zM1464 1429.25h4V1496.8h-4zM1470 1395.25h4V1496.8h-4zM1482 1464.25h4V1496.8h-4zM1488 1462.25h4V1496.8h-4zM1536 1457.25h4V1496.8h-4zM1566 1457.25h4V1496.8h-4zM1578 1479.25h4V1496.8h-4zM1596 1489.25h4V1496.8h-4zM1620 1478.25h4V1496.8h-4zM1626 1484.25h4V1496.8h-4zM1644 1491.25h4V1496.8h-4zM1656 1479.25h4V1496.8h-4zM1662 1468.25h4V1496.8h-4zM1674 1487.25h4V1496.8h-4zM1686 1487.25h4V1496.8h-4zM1722 1473.25h4V1496.8h-4zM1740 1480.25h4V1496.8h-4zM1752 1476.25h4V1496.8h-4zM1758 1479.25h4V1496.8h-4zM1770 1483.25h4V1496.8h-4zM1788 1483.25h4V1496.8h-4zM1800 1488.25h4V1496.8h-4zM1806 1469.25h4V1496.8h-4zM1812 1466.25h4V1496.8h-4zM1818 1470.25h4V1496.8h-4zM1830 1465.25h4V1496.8h-4zM1842 1444.25h4V1496.8h-4zM1860 1478.25h4V1496.8h-4zM1872 1468h4V1496.8h-4zM1920 1422h4V1496.8h-4zM1938 1483h4V1496.8h-4zM1950 1470h4V1496.8h-4zM1956 1483.75h4V1496.8h-4zM1962 1483h4V1496.8h-4zM1992 1412h4V1496.8h-4zM2016 1434.25h4V1496.8h-4zM2052 1480h4V1496.8h-4zM2058 1475h4V1496.8h-4zM2064 1444.25h4V1496.8h-4zM2076 1365h4V1496.8h-4zM2100 1439.25h4V1496.8h-4zM2106 1485h4V1496.8h-4zM2130 1466.25h4V1496.8h-4zM2136 1478h4V1496.8h-4zM2148 1386.25h4V1496.8h-4zM2160 1479.25h4V1496.8h-4zM2172 1472h4V1496.8h-4zM2196 1481.25h4V1496.8h-4zM2202 1443h4V1496.8h-4zM2208 1465h4V1496.8h-4zM2214 1469.25h4V1496.8h-4zM2220 1448h4V1496.8h-4zM2226 1414.25h4V1496.8h-4zM2232 1450h4V1496.8h-4zM2238 1335h4V1496.8h-4zM2262 1414.25h4V1496.8h-4zM2286 1395h4V1496.8h-4zM2292 1315h4V1496.8h-4zM2298 1315h4V1496.8h-4z" fill="#8bc2b4"/>
<path d="M18 1317.5h4V1496.8h-4zM30 1426.25h4V1496.8h-4zM36 1407h4V1496.8h-4zM54 1461.25h4V1496.8h-4zM66 1449.25h4V1496.8h-4zM78 1468.25h4V1496.8h-4zM84 1465.25h4V1496.8h-4zM114 1472h4V1496.8h-4zM126 1418.25h4V1496.8h-4zM132 1425.25h4V1496.8h-4zM138 1479h4V1496.8h-4zM144 1469.25h4V1496.8h-4zM156 1433.25h4V1496.8h-4zM180 1439.25h4V1496.8h-4zM192 1461.25h4V1496.8h-4zM222 1477h4V1496.8h-4zM228 1469.25h4V1496.8h-4zM234 1480h4V1496.8h-4zM240 1471.25h4V1496.8h-4zM270 1430.25h4V1496.8h-4zM282 1432.25h4V1496.8h-4zM294 1442.25h4V1496.8h-4zM300 1480h4V1496.8h-4zM318 1416.25h4V1496.8h-4zM324 1409.25h4V1496.8h-4zM342 1465.25h4V1496.8h-4zM348 1470.25h4V1496.8h-4zM360 1469.25h4V1496.8h-4zM366 1468.25h4V1496.8h-4zM390 1470.25h4V1496.8h-4zM396 1432.25h4V1496.8h-4zM408 1412.25h4V1496.8h-4zM414 1466.25h4V1496.8h-4zM420 1465.25h4V1496.8h-4zM426 1454.25h4V1496.8h-4zM438 1468.25h4V1496.8h-4zM462 1462.25h4V1496.8h-4zM492 1483.25h4V1496.8h-4zM498 1483.25h4V1496.8h-4zM504 1474.25h4V1496.8h-4zM516 1463.25h4V1496.8h-4zM522 1455.25h4V1496.8h-4zM528 1463.25h4V1496.8h-4zM534 1464.25h4V1496.8h-4zM540 1429.25h4V1496.8h-4zM558 1481.25h4V1496.8h-4zM576 1474.25h4V1496.8h-4zM582 1437.25h4V1496.8h-4zM588 1379.25h4V1496.8h-4zM594 1444.25h4V1496.8h-4zM612 1392.25h4V1496.8h-4zM624 1484.25h4V1496.8h-4zM630 1474.25h4V1496.8h-4zM636 1437.25h4V1496.8h-4zM642 1420.25h4V1496.8h-4zM654 1449.25h4V1496.8h-4zM660 1360.25h4V1496.8h-4zM666 1457.25h4V1496.8h-4zM690 1483.25h4V1496.8h-4zM696 1482.25h4V1496.8h-4zM714 1486.25h4V1496.8h-4zM720 1490.25h4V1496.8h-4zM732 1490.25h4V1496.8h-4zM762 1482.25h4V1496.8h-4zM786 1472.25h4V1496.8h-4zM792 1473.25h4V1496.8h-4zM798 1458.25h4V1496.8h-4zM810 1469.25h4V1496.8h-4zM828 1468.25h4V1496.8h-4zM834 1472.25h4V1496.8h-4zM846 1487.25h4V1496.8h-4zM858 1473.25h4V1496.8h-4zM864 1468.25h4V1496.8h-4zM870 1467.25h4V1496.8h-4zM876 1450.25h4V1496.8h-4zM882 1472.25h4V1496.8h-4zM888 1483.25h4V1496.8h-4zM906 1484.25h4V1496.8h-4zM936 1464.25h4V1496.8h-4zM942 1468.25h4V1496.8h-4zM954 1465.25h4V1496.8h-4zM960 1425.25h4V1496.8h-4zM978 1471.25h4V1496.8h-4zM984 1480.25h4V1496.8h-4zM990 1480.25h4V1496.8h-4zM1002 1479.25h4V1496.8h-4zM1014 1484.25h4V1496.8h-4zM1020 1467.25h4V1496.8h-4zM1026 1475.25h4V1496.8h-4zM1038 1485.25h4V1496.8h-4zM1050 1482.25h4V1496.8h-4zM1062 1487.25h4V1496.8h-4zM1068 1484.25h4V1496.8h-4zM1086 1490.25h4V1496.8h-4zM1098 1492.25h4V1496.8h-4zM1116 1436.25h4V1496.8h-4zM1140 1446.25h4V1496.8h-4zM1146 1491.25h4V1496.8h-4zM1152 1488.25h4V1496.8h-4zM1176 1485.25h4V1496.8h-4zM1188 1493.25h4V1496.8h-4zM1194 1477.25h4V1496.8h-4zM1200 1485.25h4V1496.8h-4zM1212 1478.25h4V1496.8h-4zM1224 1490.25h4V1496.8h-4zM1242 1486.25h4V1496.8h-4zM1260 1487.25h4V1496.8h-4zM1266 1485.25h4V1496.8h-4zM1272 1487.25h4V1496.8h-4zM1284 1470.25h4V1496.8h-4zM1302 1197h4V1496.8h-4zM1332 1433.25h4V1496.8h-4zM1338 1442.25h4V1496.8h-4zM1362 1426.25h4V1496.8h-4zM1368 1411.25h4V1496.8h-4zM1374 1453.25h4V1496.8h-4zM1386 1453.25h4V1496.8h-4zM1422 1442.25h4V1496.8h-4zM1440 1416.25h4V1496.8h-4zM1446 1414.25h4V1496.8h-4zM1452 1356.25h4V1496.8h-4zM1458 1408.25h4V1496.8h-4zM1476 1454.25h4V1496.8h-4zM1494 1476.25h4V1496.8h-4zM1500 1470.25h4V1496.8h-4zM1506 1473.25h4V1496.8h-4zM1512 1463.25h4V1496.8h-4zM1518 1480.25h4V1496.8h-4zM1524 1471.25h4V1496.8h-4zM1530 1475.25h4V1496.8h-4zM1542 1467.25h4V1496.8h-4zM1548 1475.25h4V1496.8h-4zM1554 1439.25h4V1496.8h-4zM1560 1468.25h4V1496.8h-4zM1572 1472.25h4V1496.8h-4zM1584 1468.25h4V1496.8h-4zM1590 1478.25h4V1496.8h-4zM1602 1488.25h4V1496.8h-4zM1608 1489.25h4V1496.8h-4zM1614 1449.25h4V1496.8h-4zM1632 1478.25h4V1496.8h-4zM1638 1482.25h4V1496.8h-4zM1650 1488.25h4V1496.8h-4zM1668 1483.25h4V1496.8h-4zM1680 1484.25h4V1496.8h-4zM1692 1488.25h4V1496.8h-4zM1698 1479.25h4V1496.8h-4zM1704 1479.25h4V1496.8h-4zM1710 1464.25h4V1496.8h-4zM1716 1465.25h4V1496.8h-4zM1728 1485.25h4V1496.8h-4zM1734 1482.25h4V1496.8h-4zM1746 1478.25h4V1496.8h-4zM1764 1486.25h4V1496.8h-4zM1776 1487.25h4V1496.8h-4zM1782 1483.25h4V1496.8h-4zM1794 1471.25h4V1496.8h-4zM1824 1477.25h4V1496.8h-4zM1836 1379.25h4V1496.8h-4zM1848 1476.25h4V1496.8h-4zM1854 1473.25h4V1496.8h-4zM1866 1476.25h4V1496.8h-4zM1878 1474.5h4V1496.8h-4zM1884 1356.25h4V1496.8h-4zM1890 1469.25h4V1496.8h-4zM1896 1485h4V1496.8h-4zM1902 1483h4V1496.8h-4zM1908 1446.25h4V1496.8h-4zM1914 1446.25h4V1496.8h-4zM1926 1461.25h4V1496.8h-4zM1932 1470h4V1496.8h-4zM1944 1456.25h4V1496.8h-4zM1968 1473h4V1496.8h-4zM1974 1464.25h4V1496.8h-4zM1980 1448.25h4V1496.8h-4zM1986 1466.25h4V1496.8h-4zM1998 1458.25h4V1496.8h-4zM2004 1471.25h4V1496.8h-4zM2010 1362h4V1496.8h-4zM2022 1462h4V1496.8h-4zM2028 1481.25h4V1496.8h-4zM2034 1476.25h4V1496.8h-4zM2040 1483h4V1496.8h-4zM2046 1476.25h4V1496.8h-4zM2070 1480h4V1496.8h-4zM2082 1471.25h4V1496.8h-4zM2088 1449.25h4V1496.8h-4zM2094 1480h4V1496.8h-4zM2112 1481.25h4V1496.8h-4zM2118 1475h4V1496.8h-4zM2124 1483h4V1496.8h-4zM2142 1480h4V1496.8h-4zM2154 1481.25h4V1496.8h-4zM2166 1483h4V1496.8h-4zM2178 1483.75h4V1496.8h-4zM2184 1482h4V1496.8h-4zM2190 1465h4V1496.8h-4zM2244 1418.25h4V1496.8h-4zM2250 1451.25h4V1496.8h-4zM2256 1420h4V1496.8h-4zM2268 1326.25h4V1496.8h-4zM2274 1461.25h4V1496.8h-4zM2280 1445h4V1496.8h-4zM2304 1460.75h4V1496.8h-4z" fill="#f19b90"/>
<g fill="none" stroke-linejoin="round" stroke-linecap="round">
<path d="M20 550C32.5 556.67 72.92 578.75 95 590C117.08 601.25 135.83 608.75 152.5 617.5C169.17 626.25 179.58 633.96 195 642.5C210.42 651.04 232.5 663.5 245 668.75C257.5 674 261.67 672.79 270 674C278.33 675.21 284.58 675.67 295 676C305.42 676.33 320 676.38 332.5 676C345 675.62 359.58 675.42 370 673.75C380.42 672.08 386.67 668.5 395 666C403.33 663.5 409.58 661.25 420 658.75C430.42 656.25 445 653.71 457.5 651C470 648.29 484.58 644.25 495 642.5C505.42 640.75 511.67 641 520 640.5C528.33 640 534.58 640.08 545 639.5C555.42 638.92 570 637.12 582.5 637C595 636.88 611.08 637.92 620 638.75C628.92 639.58 629.17 640.79 636 642C642.83 643.21 650.58 644.25 661 646C671.42 647.75 684.33 650.38 698.5 652.5C712.67 654.62 734.75 657.92 746 658.75C757.25 659.58 759.33 658.46 766 657.5C772.67 656.54 778.5 654.25 786 653C793.5 651.75 802.67 651.42 811 650C819.33 648.58 827.67 646.08 836 644.5C844.33 642.92 852.67 640.92 861 640.5C869.33 640.08 877.67 641.33 886 642C894.33 642.67 902.67 644 911 644.5C919.33 645 927.67 645.12 936 645C944.33 644.88 952.67 643.75 961 643.75C969.33 643.75 977.67 644.5 986 645C994.33 645.5 1002.67 645.92 1011 646.75C1019.33 647.58 1027.67 648.83 1036 650C1044.33 651.17 1052.67 652.29 1061 653.75C1069.33 655.21 1077.67 657.21 1086 658.75C1094.33 660.29 1102.67 662.04 1111 663C1119.33 663.96 1125.58 664.04 1136 664.5C1146.42 664.96 1163.08 664.92 1173.5 665.75C1183.92 666.58 1190.17 667.88 1198.5 669.5C1206.83 671.12 1214.58 673.75 1223.5 675.5C1232.42 677.25 1243.08 678.83 1252 680C1260.92 681.17 1267.42 681.33 1277 682.5C1286.58 683.67 1301.17 687.08 1309.5 687C1317.83 686.92 1319.92 683.38 1327 682C1334.08 680.62 1343.67 679.92 1352 678.75C1360.33 677.58 1368.67 676.25 1377 675C1385.33 673.75 1393.67 672.92 1402 671.25C1410.33 669.58 1418.67 667.5 1427 665C1435.33 662.5 1443.67 658 1452 656.25C1460.33 654.5 1468.67 654.79 1477 654.5C1485.33 654.21 1493.67 654 1502 654.5C1510.33 655 1518.67 656.17 1527 657.5C1535.33 658.83 1543.67 660.5 1552 662.5C1560.33 664.5 1568.67 667.33 1577 669.5C1585.33 671.67 1593.67 673.25 1602 675.5C1610.33 677.75 1618.67 680.58 1627 683C1635.33 685.42 1643.67 687.92 1652 690C1660.33 692.08 1668.67 693.42 1677 695.5C1685.33 697.58 1693.67 699.75 1702 702.5C1710.33 705.25 1720.75 709.08 1727 712C1733.25 714.92 1733.25 716.79 1739.5 720C1745.75 723.21 1756.17 727.5 1764.5 731.25C1772.83 735 1781.17 739.17 1789.5 742.5C1797.83 745.83 1806.17 748.96 1814.5 751.25C1822.83 753.54 1830.58 754.58 1839.5 756.25C1848.42 757.92 1857.92 759.29 1868 761.25C1878.08 763.21 1888 764.88 1900 768C1912 771.12 1926.67 775 1940 780C1953.33 785 1966.17 791.33 1980 798C1993.83 804.67 2010.83 813.42 2023 820C2035.17 826.58 2041.33 831.25 2053 837.5C2064.67 843.75 2080.08 850.83 2093 857.5C2105.92 864.17 2118 871.25 2130.5 877.5C2143 883.75 2157.58 890.21 2168 895C2178.42 899.79 2184.67 903 2193 906.25C2201.33 909.5 2211.75 912.79 2218 914.5C2224.25 916.21 2226.33 916.21 2230.5 916.5C2234.67 916.79 2236.75 916.42 2243 916.25C2249.25 916.08 2260.5 915.79 2268 915.5C2275.5 915.21 2281.46 916.04 2288 914.5C2294.54 912.96 2304.04 907.62 2307.25 906.25" stroke="#2962ff" stroke-width="2"/>
<path d="M20 776.5C22.08 781.5 28.33 796.92 32.5 806.5C36.67 816.08 40.83 825.67 45 834C49.17 842.33 53.33 849 57.5 856.5C61.67 864 65.83 872.75 70 879C74.17 885.25 78.33 889.42 82.5 894C86.67 898.58 91.67 903.83 95 906.5C98.33 909.17 98.67 909.08 102.5 910C106.33 910.92 113.42 910.08 118 912C122.58 913.92 126.33 917 130 921.5C133.67 926 136.25 931.92 140 939C143.75 946.08 148.33 956.08 152.5 964C156.67 971.92 161.08 980.83 165 986.5C168.92 992.17 173.08 993.42 176 998C178.92 1002.58 179.33 1007.08 182.5 1014C185.67 1020.92 191.25 1035.58 195 1039.5C198.75 1043.42 201.67 1039.75 205 1037.5C208.33 1035.25 210.42 1028.75 215 1026C219.58 1023.25 227.92 1021.38 232.5 1021C237.08 1020.62 239.58 1024.83 242.5 1023.75C245.42 1022.67 247.5 1018.79 250 1014.5C252.5 1010.21 254.17 1007.25 257.5 998C260.83 988.75 265.83 973 270 959C274.17 945 278.33 929.83 282.5 914C286.67 898.17 290.83 879 295 864C299.17 849 303.33 836.5 307.5 824C311.67 811.5 315.42 799.42 320 789C324.58 778.58 330.83 768 335 761.5C339.17 755 342.08 752.75 345 750C347.92 747.25 348.75 749.67 352.5 745C356.25 740.33 362.5 733.33 367.5 722C372.5 710.67 377.92 691.08 382.5 677C387.08 662.92 390.83 649.5 395 637.5C399.17 625.5 403.33 612.92 407.5 605C411.67 597.08 415.83 594 420 590C424.17 586 428.33 583.5 432.5 581C436.67 578.5 441.67 577.25 445 575C448.33 572.75 450 570 452.5 567.5C455 565 457.08 561.92 460 560C462.92 558.08 466.25 557.67 470 556C473.75 554.33 478.75 551.92 482.5 550C486.25 548.08 489.58 544.92 492.5 544.5C495.42 544.08 497.5 545.96 500 547.5C502.5 549.04 504.17 552.5 507.5 553.75C510.83 555 515.83 553.12 520 555C524.17 556.88 528.33 560 532.5 565C536.67 570 540.42 580.08 545 585C549.58 589.92 555.83 594.33 560 594.5C564.17 594.67 566.67 587.42 570 586C573.33 584.58 575.83 583.67 580 586C584.17 588.33 590.42 595.58 595 600C599.58 604.42 603.33 608.75 607.5 612.5C611.67 616.25 615.25 617.75 620 622.5C624.75 627.25 632.08 633.92 636 641C639.92 648.08 640.17 659.33 643.5 665C646.83 670.67 651.83 670.42 656 675C660.17 679.58 664.33 688.17 668.5 692.5C672.67 696.83 677.25 699.12 681 701C684.75 702.88 688.08 702.08 691 703.75C693.92 705.42 695.17 708.96 698.5 711C701.83 713.04 706.83 713.88 711 716C715.17 718.12 719.33 721 723.5 723.75C727.67 726.5 733.08 730.62 736 732.5C738.92 734.38 738.92 735.83 741 735C743.08 734.17 745.17 732.08 748.5 727.5C751.83 722.92 756.83 714.58 761 707.5C765.17 700.42 769.33 693.75 773.5 685C777.67 676.25 781.83 663.17 786 655C790.17 646.83 794.33 641.42 798.5 636C802.67 630.58 806.83 628.5 811 622.5C815.17 616.5 819.33 605.42 823.5 600C827.67 594.58 831.83 593.33 836 590C840.17 586.67 845.17 582.33 848.5 580C851.83 577.67 853.08 576 856 576C858.92 576 862.67 576.42 866 580C869.33 583.58 872.67 591.67 876 597.5C879.33 603.33 882.25 609.58 886 615C889.75 620.42 894.33 625.21 898.5 630C902.67 634.79 906.83 640.83 911 643.75C915.17 646.67 919.33 647.96 923.5 647.5C927.67 647.04 932.25 641.42 936 641C939.75 640.58 942.67 645.5 946 645C949.33 644.5 952.67 638.42 956 638C959.33 637.58 962.67 641.17 966 642.5C969.33 643.83 972.67 644.75 976 646C979.33 647.25 981.42 646.83 986 650C990.58 653.17 999.33 663.33 1003.5 665C1007.67 666.67 1007.67 659.83 1011 660C1014.33 660.17 1019.33 662.25 1023.5 666C1027.67 669.75 1031.83 677.25 1036 682.5C1040.17 687.75 1044.33 692.92 1048.5 697.5C1052.67 702.08 1056.83 705.83 1061 710C1065.17 714.17 1069.33 718.75 1073.5 722.5C1077.67 726.25 1081.83 729.42 1086 732.5C1090.17 735.58 1095 739.33 1098.5 741C1102 742.67 1104.08 743.08 1107 742.5C1109.92 741.92 1112.83 739.17 1116 737.5C1119.17 735.83 1122.67 734.58 1126 732.5C1129.33 730.42 1132.25 727.17 1136 725C1139.75 722.83 1144.33 720.75 1148.5 719.5C1152.67 718.25 1156.83 718.92 1161 717.5C1165.17 716.08 1169.33 712.08 1173.5 711C1177.67 709.92 1181.83 709.5 1186 711C1190.17 712.5 1194.33 715.58 1198.5 720C1202.67 724.42 1206.83 732.08 1211 737.5C1215.17 742.92 1219.33 748.12 1223.5 752.5C1227.67 756.88 1232.25 761.04 1236 763.75C1239.75 766.46 1243.33 768.12 1246 768.75C1248.67 769.38 1248.83 767.96 1252 767.5C1255.17 767.04 1259.58 767.08 1265 766C1270.42 764.92 1279 762.92 1284.5 761C1290 759.08 1293.83 753.21 1298 754.5C1302.17 755.79 1306.25 771.17 1309.5 768.75C1312.75 766.33 1314.58 751.88 1317.5 740C1320.42 728.12 1324.17 706.04 1327 697.5C1329.83 688.96 1330.33 693.33 1334.5 688.75C1338.67 684.17 1347 677.71 1352 670C1357 662.29 1360.33 647.5 1364.5 642.5C1368.67 637.5 1372.83 641.08 1377 640C1381.17 638.92 1385.33 638.5 1389.5 636C1393.67 633.5 1397.83 630 1402 625C1406.17 620 1411 610.38 1414.5 606C1418 601.62 1420.08 603.5 1423 598.75C1425.92 594 1428.83 585.21 1432 577.5C1435.17 569.79 1439.33 558.12 1442 552.5C1444.67 546.88 1445.5 543.75 1448 543.75C1450.5 543.75 1453 549.17 1457 552.5C1461 555.83 1468.25 560.21 1472 563.75C1475.75 567.29 1476.58 570.88 1479.5 573.75C1482.42 576.62 1485.75 576.62 1489.5 581C1493.25 585.38 1497.83 593.5 1502 600C1506.17 606.5 1510.33 612.71 1514.5 620C1518.67 627.29 1522.83 635.83 1527 643.75C1531.17 651.67 1535.33 659.79 1539.5 667.5C1543.67 675.21 1548.67 683.25 1552 690C1555.33 696.75 1556.17 700.08 1559.5 708C1562.83 715.92 1567.83 730.5 1572 737.5C1576.17 744.5 1579.5 745 1584.5 750C1589.5 755 1597.42 762.5 1602 767.5C1606.58 772.5 1608.67 774.79 1612 780C1615.33 785.21 1618.25 794.17 1622 798.75C1625.75 803.33 1630.33 803.75 1634.5 807.5C1638.67 811.25 1643.25 817.92 1647 821.25C1650.75 824.58 1653.67 826.46 1657 827.5C1660.33 828.54 1663.67 827.08 1667 827.5C1670.33 827.92 1673.25 829.17 1677 830C1680.75 830.83 1685.75 830.83 1689.5 832.5C1693.25 834.17 1696.17 836.25 1699.5 840C1702.83 843.75 1705.75 847.5 1709.5 855C1713.25 862.5 1717.83 874.58 1722 885C1726.17 895.42 1730.33 907.5 1734.5 917.5C1738.67 927.5 1742.83 936.25 1747 945C1751.17 953.75 1755.33 962.5 1759.5 970C1763.67 977.5 1767.83 984.58 1772 990C1776.17 995.42 1780.75 998.33 1784.5 1002.5C1788.25 1006.67 1791.58 1012.42 1794.5 1015C1797.42 1017.58 1799.5 1018.42 1802 1018C1804.5 1017.58 1806.58 1015.71 1809.5 1012.5C1812.42 1009.29 1816.17 1003.75 1819.5 998.75C1822.83 993.75 1826.17 988.12 1829.5 982.5C1832.83 976.88 1835.75 970.83 1839.5 965C1843.25 959.17 1848.25 952.5 1852 947.5C1855.75 942.5 1859.33 938.08 1862 935C1864.67 931.92 1865.33 932.12 1868 929C1870.67 925.88 1874.25 919.62 1878 916.25C1881.75 912.88 1887.17 910.21 1890.5 908.75C1893.83 907.29 1895.08 906.25 1898 907.5C1900.92 908.75 1903.83 911.67 1908 916.25C1912.17 920.83 1917.58 929.38 1923 935C1928.42 940.62 1935.92 944.58 1940.5 950C1945.08 955.42 1946.75 963.33 1950.5 967.5C1954.25 971.67 1958.83 970.83 1963 975C1967.17 979.17 1971.33 985 1975.5 992.5C1979.67 1000 1983 1008.75 1988 1020C1993 1031.25 2000.5 1047.5 2005.5 1060C2010.5 1072.5 2014.08 1083.17 2018 1095C2021.92 1106.83 2025.67 1120.58 2029 1131C2032.33 1141.42 2034.83 1148.08 2038 1157.5C2041.17 1166.92 2045.33 1180.25 2048 1187.5C2050.67 1194.75 2051.92 1198.08 2054 1201C2056.08 1203.92 2057.5 1205.17 2060.5 1205C2063.5 1204.83 2068.25 1201.25 2072 1200C2075.75 1198.75 2079.5 1196.88 2083 1197.5C2086.5 1198.12 2088.83 1201.67 2093 1203.75C2097.17 1205.83 2103.83 1207.29 2108 1210C2112.17 1212.71 2114.67 1217 2118 1220C2121.33 1223 2125.08 1226.54 2128 1228C2130.92 1229.46 2128.83 1228.83 2135.5 1228.75C2142.17 1228.67 2160.75 1228.21 2168 1227.5C2175.25 1226.79 2175.25 1224.17 2179 1224.5C2182.75 1224.83 2187.33 1229 2190.5 1229.5C2193.67 1230 2195.08 1229.29 2198 1227.5C2200.92 1225.71 2204.67 1222.5 2208 1218.75C2211.33 1215 2214.67 1211.46 2218 1205C2221.33 1198.54 2225.08 1189.17 2228 1180C2230.92 1170.83 2233.33 1158.67 2235.5 1150C2237.67 1141.33 2238.08 1140.5 2241 1128C2243.92 1115.5 2249.33 1089.67 2253 1075C2256.67 1060.33 2259.67 1049.58 2263 1040C2266.33 1030.42 2269.67 1023.33 2273 1017.5C2276.33 1011.67 2280.08 1010.83 2283 1005C2285.92 999.17 2288 991.67 2290.5 982.5C2293 973.33 2295.21 962.71 2298 950C2300.79 937.29 2305.71 913.54 2307.25 906.25" stroke="#0b6b55" stroke-width="2"/>
</g>
<path d="M19 980h2V1100h-2zM25 925h2V1100h-2zM31 892.75h2V946.5h-2zM37 924h2V1020.25h-2zM43 934h2V1014h-2zM49 917.75h2V959h-2zM55 931.5h2V1005.25h-2zM61 939h2V1004h-2zM67 951.5h2V1016.5h-2zM73 929h2V984h-2zM79 917.75h2V976.5h-2zM85 951.5h2V996.5h-2zM91 957.75h2V982.75h-2zM97 946.5h2V981.5h-2zM103 894h2V959h-2zM109 877.75h2V914h-2zM115 877.75h2V951.5h-2zM121 885.25h2V939h-2zM127 909h2V1006.5h-2zM133 987.5h2V1068.75h-2zM139 1013.75h2V1063.75h-2zM145 1045h2V1100h-2zM151 1021.25h2V1062.5h-2zM157 1012.5h2V1115h-2zM163 1077.5h2V1157h-2zM169 1065h2V1136.25h-2zM175 1067.5h2V1098.75h-2zM181 1076.25h2V1245.5h-2zM187 1120h2V1291.75h-2zM193 1083.25h2V1178.75h-2zM199 1025h2V1191.25h-2zM205 996h2V1053.75h-2zM211 940h2V1035h-2zM217 931.5h2V971.5h-2zM223 952.5h2V1005h-2zM229 975h2V1018.75h-2zM235 995h2V1040h-2zM241 1015h2V1063.75h-2zM247 970h2V1045h-2zM253 895.25h2V986.5h-2zM259 826.5h2V910.25h-2zM265 761.5h2V855.25h-2zM271 774h2V820.25h-2zM277 698.75h2V800h-2zM283 701.25h2V762.5h-2zM289 670h2V757.5h-2zM295 646.25h2V703.75h-2zM301 687.5h2V727.5h-2zM307 668.75h2V720h-2zM313 615h2V710h-2zM319 622.5h2V673.75h-2zM325 652.5h2V735h-2zM331 643.75h2V695h-2zM337 635h2V691.25h-2zM343 641.25h2V698.75h-2zM349 690h2V723.75h-2zM355 636.25h2V722.5h-2zM361 636.25h2V692.5h-2zM367 621.25h2V691.25h-2zM373 543.75h2V668.75h-2zM379 496.25h2V558.75h-2zM385 464.5h2V546.25h-2zM391 464.5h2V517.5h-2zM397 432h2V525h-2zM403 463.75h2V512.5h-2zM409 463.75h2V508.75h-2zM415 477.5h2V557.5h-2zM421 507.5h2V547.5h-2zM427 540h2V572.5h-2zM433 516.25h2V598.75h-2zM439 538.75h2V620h-2zM445 562.5h2V578.75h-2zM451 491.25h2V572.5h-2zM457 450h2V502.5h-2zM463 458h2V562.5h-2zM469 513.75h2V557.5h-2zM475 525h2V573.75h-2zM481 473.25h2V540h-2zM487 482.5h2V542.5h-2zM493 486.25h2V540h-2zM499 511.25h2V563.75h-2zM505 555h2V643.75h-2zM511 525h2V663.75h-2zM517 518h2V572.5h-2zM523 562.5h2V597.5h-2zM529 582.5h2V626.25h-2zM535 593.75h2V640h-2zM541 626.25h2V705.5h-2zM547 636.25h2V698.75h-2zM553 612h2V666.25h-2zM559 615h2V648.75h-2zM565 536.25h2V633.75h-2zM571 511.25h2V560h-2zM577 522.5h2V591.25h-2zM583 575h2V637.5h-2zM589 620h2V691.25h-2zM595 640h2V691.25h-2zM601 643.75h2V688.75h-2zM607 611.25h2V666.25h-2zM613 652.5h2V736.25h-2zM619 665h2V727.5h-2zM625 661.25h2V710h-2zM631 680h2V745h-2zM637 720h2V783.75h-2zM643 777.5h2V855h-2zM649 687.5h2V831.25h-2zM655 670h2V715h-2zM661 707.5h2V767.5h-2zM667 761.25h2V783.75h-2zM673 752.5h2V785h-2zM679 740h2V780h-2zM685 701.25h2V751.25h-2zM691 705h2V740h-2zM697 735h2V780h-2zM703 717.5h2V778.75h-2zM709 708.75h2V740h-2zM715 726.25h2V783.75h-2zM721 757.5h2V777.5h-2zM727 742.5h2V775h-2zM733 742.5h2V778.75h-2zM739 765h2V783.75h-2zM745 697.5h2V777.5h-2zM751 632.5h2V708.75h-2zM757 588.75h2V656.25h-2zM763 591.25h2V648.75h-2zM769 585h2V630h-2zM775 530h2V615h-2zM781 521.25h2V592.5h-2zM787 505h2V537.5h-2zM793 521.25h2V567.5h-2zM799 518.75h2V601.25h-2zM805 555h2V585h-2zM811 527.5h2V578.75h-2zM817 493.75h2V574.5h-2zM823 477.5h2V562.5h-2zM829 491.25h2V572.5h-2zM835 522.5h2V587.5h-2zM841 537.5h2V585h-2zM847 526.25h2V548.75h-2zM853 527.5h2V550h-2zM859 517h2V595h-2zM865 570h2V630h-2zM871 625h2V685h-2zM877 627.5h2V697.5h-2zM883 683.75h2V736.25h-2zM889 702.5h2V752.5h-2zM895 691.25h2V749.5h-2zM901 672h2V703.75h-2zM907 680h2V737.5h-2zM913 700h2V735h-2zM919 652.5h2V712.5h-2zM925 635h2V667.5h-2zM931 603.75h2V652.5h-2zM937 596.25h2V632.5h-2zM943 597.5h2V680h-2zM949 596.25h2V683.75h-2zM955 585h2V620h-2zM961 590h2V682h-2zM967 625h2V676.25h-2zM973 641.25h2V668.75h-2zM979 622h2V652.5h-2zM985 647.5h2V703.75h-2zM991 678.75h2V722.5h-2zM997 690h2V730h-2zM1003 688.75h2V736.25h-2zM1009 647.5h2V748.75h-2zM1015 652.5h2V685h-2zM1021 638.75h2V700h-2zM1027 672.5h2V780h-2zM1033 697.5h2V776.25h-2zM1039 720h2V750h-2zM1045 727.5h2V761.25h-2zM1051 730h2V787h-2zM1057 758.75h2V785h-2zM1063 750h2V786.25h-2zM1069 781.25h2V818.75h-2zM1075 767.5h2V800h-2zM1081 751.25h2V772.5h-2zM1087 757.5h2V795h-2zM1093 755h2V788.75h-2zM1099 771.25h2V787.5h-2zM1105 752.5h2V782.5h-2zM1111 705h2V760h-2zM1117 705h2V741.25h-2zM1123 700h2V751.25h-2zM1129 670.5h2V705h-2zM1135 672.5h2V711.25h-2zM1141 657h2V690h-2zM1147 677.5h2V715h-2zM1153 687.5h2V733.75h-2zM1159 705h2V730h-2zM1165 678.75h2V722.5h-2zM1171 649.5h2V687.5h-2zM1177 669.5h2V714.5h-2zM1183 705h2V720h-2zM1189 703.75h2V741.25h-2zM1195 736.25h2V821.25h-2zM1201 773.75h2V805h-2zM1207 780h2V810h-2zM1213 792h2V850h-2zM1219 807.5h2V840h-2zM1225 818.75h2V833.75h-2zM1231 803.75h2V848.75h-2zM1237 609.5h2V808.75h-2zM1243 791.25h2V835h-2zM1249 771.25h2V823.75h-2zM1255 753.75h2V791.25h-2zM1261 747h2V773.75h-2zM1267 767.5h2V786.25h-2zM1273 753.75h2V792.5h-2zM1279 690h2V790h-2zM1285 694.5h2V747.5h-2zM1291 726.25h2V760h-2zM1297 706.25h2V768.75h-2zM1303 597.5h2V1440h-2zM1309 743.75h2V892.5h-2zM1315 598.75h2V859.5h-2zM1321 497.5h2V638.75h-2zM1327 448h2V628.75h-2zM1333 467.5h2V578.75h-2zM1339 562h2V650h-2zM1345 620h2V717.5h-2zM1351 568.75h2V633.75h-2zM1357 481.25h2V602.5h-2zM1363 450h2V556.25h-2zM1369 527h2V633.75h-2zM1375 591.25h2V663.75h-2zM1381 600h2V654.5h-2zM1387 532h2V638.75h-2zM1393 596.25h2V636.25h-2zM1399 546.25h2V618.75h-2zM1405 548.75h2V595h-2zM1411 482h2V581.25h-2zM1417 497h2V567.5h-2zM1423 489h2V615h-2zM1429 422.5h2V567.5h-2zM1435 353h2V447.5h-2zM1441 387h2V473.75h-2zM1447 408h2V505h-2zM1453 466.25h2V648.75h-2zM1459 577.5h2V660.5h-2zM1465 571.25h2V660h-2zM1471 551.25h2V699.5h-2zM1477 585.5h2V674.5h-2zM1483 611.25h2V725h-2zM1489 596.25h2V660h-2zM1495 598.75h2V676.25h-2zM1501 638h2V707.5h-2zM1507 678h2V748h-2zM1513 715h2V791.25h-2zM1519 699.5h2V747h-2zM1525 709.5h2V800.5h-2zM1531 770h2V802.5h-2zM1537 730.75h2V803h-2zM1543 738h2V813.75h-2zM1549 760h2V827.5h-2zM1555 795h2V937.5h-2zM1561 874.5h2V930.5h-2zM1567 810h2V911.25h-2zM1573 819.5h2V883.75h-2zM1579 790h2V856.25h-2zM1585 764.5h2V816.25h-2zM1591 792.5h2V835h-2zM1597 795.5h2V836.25h-2zM1603 819.5h2V842.5h-2zM1609 828.75h2V857.5h-2zM1615 852.5h2V956.25h-2zM1621 890h2V949.5h-2zM1627 830.75h2V896.25h-2zM1633 780h2V860h-2zM1639 846.25h2V903.75h-2zM1645 868h2V893.75h-2zM1651 848h2V908.75h-2zM1657 803.75h2V893h-2zM1663 782h2V858h-2zM1669 794.5h2V847h-2zM1675 812h2V878.75h-2zM1681 809.5h2V865h-2zM1687 819.5h2V850h-2zM1693 832.5h2V890h-2zM1699 855h2V941.25h-2zM1705 908.75h2V953.75h-2zM1711 931.25h2V1023h-2zM1717 1005h2V1085.5h-2zM1723 1025h2V1091.25h-2zM1729 1030.5h2V1053.75h-2zM1735 1048h2V1087h-2zM1741 1034.5h2V1071.25h-2zM1747 1055h2V1104.5h-2zM1753 1075.5h2V1125.5h-2zM1759 1047h2V1082.5h-2zM1765 1047h2V1092h-2zM1771 1057h2V1091.25h-2zM1777 1049.5h2V1075h-2zM1783 1030.5h2V1083h-2zM1789 1058h2V1082.5h-2zM1795 1055h2V1080h-2zM1801 1035h2V1081.25h-2zM1807 971.25h2V1043.75h-2zM1813 945.5h2V996.25h-2zM1819 911.25h2V960h-2zM1825 901.25h2V946.25h-2zM1831 831.25h2V922h-2zM1837 840h2V923h-2zM1843 824.25h2V921.25h-2zM1849 841.25h2V892.5h-2zM1855 850h2V898.75h-2zM1861 841.25h2V885h-2zM1867 857.5h2V881.25h-2zM1873 829.5h2V886.25h-2zM1879 817.5h2V855h-2zM1885 850h2V890h-2zM1891 877.5h2V918h-2zM1897 885.5h2V901.25h-2zM1903 893.75h2V938h-2zM1909 934.5h2V1015h-2zM1915 957.5h2V1033.75h-2zM1921 974.5h2V1042.5h-2zM1927 976.25h2V1010h-2zM1933 989.5h2V1020h-2zM1939 1005.5h2V1020h-2zM1945 1008h2V1072.5h-2zM1951 1020h2V1061.25h-2zM1957 1007.5h2V1043.75h-2zM1963 997h2V1022.5h-2zM1969 1010h2V1094.5h-2zM1975 1066.25h2V1120h-2zM1981 1081.25h2V1238.75h-2zM1987 1146.25h2V1215h-2zM1993 1123h2V1221.25h-2zM1999 1139.5h2V1216.25h-2zM2005 1158h2V1221.25h-2zM2011 1189.5h2V1346.25h-2zM2017 1235.5h2V1417h-2zM2023 1265h2V1325.5h-2zM2029 1279.5h2V1321.25h-2zM2035 1297h2V1353.75h-2zM2041 1322h2V1368.75h-2zM2047 1356.25h2V1414.5h-2zM2053 1330h2V1405h-2zM2059 1236.25h2V1371.25h-2zM2065 1118h2V1249.5h-2zM2071 1182.5h2V1237.5h-2zM2077 1092h2V1219.5h-2zM2083 1153h2V1188.75h-2zM2089 1167.5h2V1230.5h-2zM2095 1198.75h2V1263.75h-2zM2101 1187h2V1266.25h-2zM2107 1213h2V1246.25h-2zM2113 1226.25h2V1273.75h-2zM2119 1258h2V1303.75h-2zM2125 1271.25h2V1314.5h-2zM2131 1192h2V1304.5h-2zM2137 1183.75h2V1248.75h-2zM2143 1190h2V1272.5h-2zM2149 1213.75h2V1301.25h-2zM2155 1201.25h2V1268.75h-2zM2161 1171.25h2V1260.5h-2zM2167 1204.5h2V1253h-2zM2173 1167h2V1245.5h-2zM2179 1173.75h2V1225h-2zM2185 1192h2V1262.5h-2zM2191 1185h2V1268.75h-2zM2197 1200h2V1262h-2zM2203 1173h2V1231.25h-2zM2209 1114.5h2V1180h-2zM2215 1126.25h2V1175h-2zM2221 1080h2V1156.25h-2zM2227 969.5h2V1085h-2zM2233 970h2V1030h-2zM2239 843h2V984.5h-2zM2245 825h2V906.25h-2zM2251 862.5h2V907.5h-2zM2257 872.5h2V932.5h-2zM2263 867h2V994.5h-2zM2269 818.75h2V930h-2zM2275 878h2V922.5h-2zM2281 872h2V937.5h-2zM2287 834.5h2V935h-2zM2293 727h2V854.5h-2zM2299 643h2V747h-2zM2305 680h2V745.6h-2z" fill="#77777c"/>
<path d="M23.05 939h5.9V1052.5h-5.9zM41.05 952.75h5.9V1012h-5.9zM47.05 944h5.9V950.25h-5.9zM59.05 957.75h5.9V1002h-5.9zM71.05 931.5h5.9V981.5h-5.9zM89.05 977.38h5.9V979.88h-5.9zM95.05 949h5.9V979h-5.9zM101.05 912.75h5.9V952.75h-5.9zM107.05 909h5.9V911.5h-5.9zM119.05 910.25h5.9V937.75h-5.9zM149.05 1032.5h5.9V1057.5h-5.9zM161.05 1090.5h5.9V1105h-5.9zM167.05 1072.5h5.9V1089.25h-5.9zM173.05 1071.25h5.9V1073.75h-5.9zM185.05 1133.75h5.9V1220.5h-5.9zM197.05 1038.75h5.9V1175.5h-5.9zM203.05 1033.75h5.9V1036.25h-5.9zM209.05 970h5.9V1033h-5.9zM215.05 956.5h5.9V967.75h-5.9zM245.05 978.5h5.9V1037.5h-5.9zM251.05 898.5h5.9V976.5h-5.9zM257.05 851.5h5.9V896.5h-5.9zM263.05 785.75h5.9V852h-5.9zM275.05 729.5h5.9V788.75h-5.9zM287.05 682.5h5.9V733h-5.9zM305.05 676.25h5.9V702h-5.9zM311.05 638.75h5.9V675h-5.9zM329.05 683.75h5.9V688.75h-5.9zM335.05 645.75h5.9V681.25h-5.9zM353.05 645.75h5.9V711.25h-5.9zM371.05 549.5h5.9V660h-5.9zM377.05 535.75h5.9V549.5h-5.9zM383.05 473.25h5.9V533.25h-5.9zM401.05 478h5.9V486.25h-5.9zM431.05 544.5h5.9V547h-5.9zM443.05 567h5.9V571.25h-5.9zM449.05 499.5h5.9V566.25h-5.9zM455.05 470.75h5.9V498.75h-5.9zM467.05 535.75h5.9V555h-5.9zM473.05 530h5.9V532.5h-5.9zM479.05 528h5.9V532h-5.9zM485.05 501.5h5.9V526.25h-5.9zM509.05 534.5h5.9V641.25h-5.9zM545.05 661.25h5.9V697h-5.9zM551.05 622.5h5.9V661.25h-5.9zM563.05 555.5h5.9V627h-5.9zM569.05 541.25h5.9V555h-5.9zM599.05 663.75h5.9V670h-5.9zM605.05 662.5h5.9V665h-5.9zM617.05 673.75h5.9V699.25h-5.9zM647.05 698.75h5.9V811.25h-5.9zM671.05 757.5h5.9V773.75h-5.9zM677.05 748.75h5.9V757.5h-5.9zM683.05 709.5h5.9V748h-5.9zM701.05 736.25h5.9V776.25h-5.9zM707.05 728.75h5.9V736.25h-5.9zM725.05 757h5.9V766.25h-5.9zM737.05 770h5.9V773h-5.9zM743.05 706.25h5.9V770.5h-5.9zM749.05 643.75h5.9V705h-5.9zM755.05 605.75h5.9V643h-5.9zM767.05 612.5h5.9V625h-5.9zM773.05 576.25h5.9V612h-5.9zM779.05 523.75h5.9V577h-5.9zM803.05 565h5.9V567.5h-5.9zM815.05 507.5h5.9V567h-5.9zM821.05 494.5h5.9V503.25h-5.9zM839.05 544.5h5.9V562h-5.9zM851.05 537.5h5.9V541.25h-5.9zM893.05 700h5.9V737.5h-5.9zM899.05 684.5h5.9V700.5h-5.9zM911.05 708.75h5.9V720h-5.9zM917.05 654.5h5.9V709.5h-5.9zM923.05 648h5.9V654.5h-5.9zM929.05 614.5h5.9V647h-5.9zM947.05 609.5h5.9V678.25h-5.9zM965.05 655h5.9V665h-5.9zM971.05 647h5.9V655h-5.9zM995.05 694.5h5.9V717.5h-5.9zM1007.05 655.5h5.9V730.75h-5.9zM1031.05 736.25h5.9V773.75h-5.9zM1043.05 735h5.9V747h-5.9zM1055.05 767h5.9V775h-5.9zM1073.05 770.5h5.9V798h-5.9zM1079.05 763.75h5.9V770h-5.9zM1091.05 778h5.9V785.5h-5.9zM1103.05 758h5.9V780h-5.9zM1109.05 714.5h5.9V758h-5.9zM1121.05 704.5h5.9V735h-5.9zM1127.05 683.75h5.9V703.25h-5.9zM1133.05 675h5.9V682h-5.9zM1157.05 714.5h5.9V717.5h-5.9zM1163.05 680h5.9V714.5h-5.9zM1169.05 675.75h5.9V680h-5.9zM1205.05 795h5.9V802h-5.9zM1217.05 823h5.9V829.5h-5.9zM1229.05 806.25h5.9V827.5h-5.9zM1235.05 797.5h5.9V805.5h-5.9zM1247.05 775.5h5.9V820.5h-5.9zM1253.05 758.25h5.9V773.75h-5.9zM1277.05 712.5h5.9V787h-5.9zM1289.05 730h5.9V747h-5.9zM1295.05 709.5h5.9V727.5h-5.9zM1307.05 831.75h5.9V852h-5.9zM1313.05 626h5.9V831.75h-5.9zM1319.05 503.75h5.9V627h-5.9zM1325.05 481.25h5.9V502.5h-5.9zM1343.05 630.5h5.9V638h-5.9zM1349.05 593.75h5.9V628.75h-5.9zM1355.05 519.5h5.9V592.5h-5.9zM1379.05 620.5h5.9V633h-5.9zM1391.05 602.5h5.9V624.25h-5.9zM1397.05 584.5h5.9V601.25h-5.9zM1403.05 564.5h5.9V582.5h-5.9zM1409.05 530.5h5.9V564.5h-5.9zM1415.05 514.5h5.9V531.25h-5.9zM1427.05 445.5h5.9V565h-5.9zM1433.05 418.25h5.9V445h-5.9zM1463.05 610.5h5.9V627h-5.9zM1469.05 595.5h5.9V610h-5.9zM1481.05 632.5h5.9V661.25h-5.9zM1487.05 617h5.9V633h-5.9zM1535.05 743.75h5.9V791.75h-5.9zM1565.05 831.75h5.9V902h-5.9zM1577.05 800h5.9V850h-5.9zM1595.05 828.75h5.9V833h-5.9zM1619.05 893h5.9V923h-5.9zM1625.05 838.75h5.9V892.5h-5.9zM1643.05 872.5h5.9V891.25h-5.9zM1655.05 841.75h5.9V891.25h-5.9zM1661.05 815.75h5.9V838h-5.9zM1673.05 835h5.9V846.25h-5.9zM1685.05 840h5.9V847.5h-5.9zM1721.05 1037h5.9V1079.5h-5.9zM1739.05 1066.5h5.9V1069.5h-5.9zM1751.05 1081.25h5.9V1095h-5.9zM1757.05 1078.75h5.9V1081.25h-5.9zM1769.05 1060.5h5.9V1090h-5.9zM1787.05 1070h5.9V1080h-5.9zM1799.05 1038.75h5.9V1078.75h-5.9zM1805.05 975h5.9V1037.5h-5.9zM1811.05 958.75h5.9V973.75h-5.9zM1817.05 919.5h5.9V957h-5.9zM1829.05 842.5h5.9V916.25h-5.9zM1841.05 870h5.9V908h-5.9zM1859.05 862h5.9V881.25h-5.9zM1871.05 845h5.9V878h-5.9zM1919.05 999.5h5.9V1024.5h-5.9zM1937.05 1012.5h5.9V1015.5h-5.9zM1949.05 1023.75h5.9V1059.25h-5.9zM1955.05 1012.5h5.9V1023.75h-5.9zM1961.05 1010.75h5.9V1013.25h-5.9zM1991.05 1153.75h5.9V1198h-5.9zM2015.05 1263.75h5.9V1332h-5.9zM2051.05 1351.75h5.9V1403h-5.9zM2057.05 1243.75h5.9V1353.75h-5.9zM2063.05 1189.5h5.9V1245h-5.9zM2075.05 1155.5h5.9V1216.25h-5.9zM2099.05 1233.75h5.9V1248h-5.9zM2105.05 1228h5.9V1232h-5.9zM2129.05 1239.5h5.9V1295.5h-5.9zM2135.05 1218h5.9V1237.5h-5.9zM2147.05 1220.5h5.9V1253.75h-5.9zM2159.05 1208.75h5.9V1248h-5.9zM2171.05 1207.5h5.9V1223h-5.9zM2195.05 1220.5h5.9V1254.25h-5.9zM2201.05 1177.5h5.9V1226.25h-5.9zM2207.05 1153h5.9V1176.25h-5.9zM2213.05 1136.75h5.9V1153.75h-5.9zM2219.05 1082h5.9V1135h-5.9zM2225.05 1017.5h5.9V1083h-5.9zM2231.05 973.75h5.9V1020h-5.9zM2237.05 872.5h5.9V972h-5.9zM2261.05 873.25h5.9V901.25h-5.9zM2285.05 843.75h5.9V932h-5.9zM2291.05 734.4h5.9V843.75h-5.9zM2297.05 708h5.9V732.5h-5.9z" fill="#1b5337"/>
<path d="M24.85 940.7h2.3V1050.8h-2.3zM42.85 954.45h2.3V1010.3h-2.3zM48.85 945.7h2.3V948.55h-2.3zM60.85 959.45h2.3V1000.3h-2.3zM72.85 933.2h2.3V979.8h-2.3zM96.85 950.7h2.3V977.3h-2.3zM102.85 914.45h2.3V951.05h-2.3zM120.85 911.95h2.3V936.05h-2.3zM150.85 1034.2h2.3V1055.8h-2.3zM162.85 1092.2h2.3V1103.3h-2.3zM168.85 1074.2h2.3V1087.55h-2.3zM186.85 1135.45h2.3V1218.8h-2.3zM198.85 1040.45h2.3V1173.8h-2.3zM210.85 971.7h2.3V1031.3h-2.3zM216.85 958.2h2.3V966.05h-2.3zM246.85 980.2h2.3V1035.8h-2.3zM252.85 900.2h2.3V974.8h-2.3zM258.85 853.2h2.3V894.8h-2.3zM264.85 787.45h2.3V850.3h-2.3zM276.85 731.2h2.3V787.05h-2.3zM288.85 684.2h2.3V731.3h-2.3zM306.85 677.95h2.3V700.3h-2.3zM312.85 640.45h2.3V673.3h-2.3zM330.85 685.45h2.3V687.05h-2.3zM336.85 647.45h2.3V679.55h-2.3zM354.85 647.45h2.3V709.55h-2.3zM372.85 551.2h2.3V658.3h-2.3zM378.85 537.45h2.3V547.8h-2.3zM384.85 474.95h2.3V531.55h-2.3zM402.85 479.7h2.3V484.55h-2.3zM444.85 568.7h2.3V569.55h-2.3zM450.85 501.2h2.3V564.55h-2.3zM456.85 472.45h2.3V497.05h-2.3zM468.85 537.45h2.3V553.3h-2.3zM480.85 529.7h2.3V530.3h-2.3zM486.85 503.2h2.3V524.55h-2.3zM510.85 536.2h2.3V639.55h-2.3zM546.85 662.95h2.3V695.3h-2.3zM552.85 624.2h2.3V659.55h-2.3zM564.85 557.2h2.3V625.3h-2.3zM570.85 542.95h2.3V553.3h-2.3zM600.85 665.45h2.3V668.3h-2.3zM618.85 675.45h2.3V697.55h-2.3zM648.85 700.45h2.3V809.55h-2.3zM672.85 759.2h2.3V772.05h-2.3zM678.85 750.45h2.3V755.8h-2.3zM684.85 711.2h2.3V746.3h-2.3zM702.85 737.95h2.3V774.55h-2.3zM708.85 730.45h2.3V734.55h-2.3zM726.85 758.7h2.3V764.55h-2.3zM744.85 707.95h2.3V768.8h-2.3zM750.85 645.45h2.3V703.3h-2.3zM756.85 607.45h2.3V641.3h-2.3zM768.85 614.2h2.3V623.3h-2.3zM774.85 577.95h2.3V610.3h-2.3zM780.85 525.45h2.3V575.3h-2.3zM816.85 509.2h2.3V565.3h-2.3zM822.85 496.2h2.3V501.55h-2.3zM840.85 546.2h2.3V560.3h-2.3zM852.85 539.2h2.3V539.55h-2.3zM894.85 701.7h2.3V735.8h-2.3zM900.85 686.2h2.3V698.8h-2.3zM912.85 710.45h2.3V718.3h-2.3zM918.85 656.2h2.3V707.8h-2.3zM924.85 649.7h2.3V652.8h-2.3zM930.85 616.2h2.3V645.3h-2.3zM948.85 611.2h2.3V676.55h-2.3zM966.85 656.7h2.3V663.3h-2.3zM972.85 648.7h2.3V653.3h-2.3zM996.85 696.2h2.3V715.8h-2.3zM1008.85 657.2h2.3V729.05h-2.3zM1032.85 737.95h2.3V772.05h-2.3zM1044.85 736.7h2.3V745.3h-2.3zM1056.85 768.7h2.3V773.3h-2.3zM1074.85 772.2h2.3V796.3h-2.3zM1080.85 765.45h2.3V768.3h-2.3zM1092.85 779.7h2.3V783.8h-2.3zM1104.85 759.7h2.3V778.3h-2.3zM1110.85 716.2h2.3V756.3h-2.3zM1122.85 706.2h2.3V733.3h-2.3zM1128.85 685.45h2.3V701.55h-2.3zM1134.85 676.7h2.3V680.3h-2.3zM1164.85 681.7h2.3V712.8h-2.3zM1170.85 677.45h2.3V678.3h-2.3zM1206.85 796.7h2.3V800.3h-2.3zM1218.85 824.7h2.3V827.8h-2.3zM1230.85 807.95h2.3V825.8h-2.3zM1236.85 799.2h2.3V803.8h-2.3zM1248.85 777.2h2.3V818.8h-2.3zM1254.85 759.95h2.3V772.05h-2.3zM1278.85 714.2h2.3V785.3h-2.3zM1290.85 731.7h2.3V745.3h-2.3zM1296.85 711.2h2.3V725.8h-2.3zM1308.85 833.45h2.3V850.3h-2.3zM1314.85 627.7h2.3V830.05h-2.3zM1320.85 505.45h2.3V625.3h-2.3zM1326.85 482.95h2.3V500.8h-2.3zM1344.85 632.2h2.3V636.3h-2.3zM1350.85 595.45h2.3V627.05h-2.3zM1356.85 521.2h2.3V590.8h-2.3zM1380.85 622.2h2.3V631.3h-2.3zM1392.85 604.2h2.3V622.55h-2.3zM1398.85 586.2h2.3V599.55h-2.3zM1404.85 566.2h2.3V580.8h-2.3zM1410.85 532.2h2.3V562.8h-2.3zM1416.85 516.2h2.3V529.55h-2.3zM1428.85 447.2h2.3V563.3h-2.3zM1434.85 419.95h2.3V443.3h-2.3zM1464.85 612.2h2.3V625.3h-2.3zM1470.85 597.2h2.3V608.3h-2.3zM1482.85 634.2h2.3V659.55h-2.3zM1488.85 618.7h2.3V631.3h-2.3zM1536.85 745.45h2.3V790.05h-2.3zM1566.85 833.45h2.3V900.3h-2.3zM1578.85 801.7h2.3V848.3h-2.3zM1596.85 830.45h2.3V831.3h-2.3zM1620.85 894.7h2.3V921.3h-2.3zM1626.85 840.45h2.3V890.8h-2.3zM1644.85 874.2h2.3V889.55h-2.3zM1656.85 843.45h2.3V889.55h-2.3zM1662.85 817.45h2.3V836.3h-2.3zM1674.85 836.7h2.3V844.55h-2.3zM1686.85 841.7h2.3V845.8h-2.3zM1722.85 1038.7h2.3V1077.8h-2.3zM1752.85 1082.95h2.3V1093.3h-2.3zM1770.85 1062.2h2.3V1088.3h-2.3zM1788.85 1071.7h2.3V1078.3h-2.3zM1800.85 1040.45h2.3V1077.05h-2.3zM1806.85 976.7h2.3V1035.8h-2.3zM1812.85 960.45h2.3V972.05h-2.3zM1818.85 921.2h2.3V955.3h-2.3zM1830.85 844.2h2.3V914.55h-2.3zM1842.85 871.7h2.3V906.3h-2.3zM1860.85 863.7h2.3V879.55h-2.3zM1872.85 846.7h2.3V876.3h-2.3zM1920.85 1001.2h2.3V1022.8h-2.3zM1950.85 1025.45h2.3V1057.55h-2.3zM1956.85 1014.2h2.3V1022.05h-2.3zM1992.85 1155.45h2.3V1196.3h-2.3zM2016.85 1265.45h2.3V1330.3h-2.3zM2052.85 1353.45h2.3V1401.3h-2.3zM2058.85 1245.45h2.3V1352.05h-2.3zM2064.85 1191.2h2.3V1243.3h-2.3zM2076.85 1157.2h2.3V1214.55h-2.3zM2100.85 1235.45h2.3V1246.3h-2.3zM2106.85 1229.7h2.3V1230.3h-2.3zM2130.85 1241.2h2.3V1293.8h-2.3zM2136.85 1219.7h2.3V1235.8h-2.3zM2148.85 1222.2h2.3V1252.05h-2.3zM2160.85 1210.45h2.3V1246.3h-2.3zM2172.85 1209.2h2.3V1221.3h-2.3zM2196.85 1222.2h2.3V1252.55h-2.3zM2202.85 1179.2h2.3V1224.55h-2.3zM2208.85 1154.7h2.3V1174.55h-2.3zM2214.85 1138.45h2.3V1152.05h-2.3zM2220.85 1083.7h2.3V1133.3h-2.3zM2226.85 1019.2h2.3V1081.3h-2.3zM2232.85 975.45h2.3V1018.3h-2.3zM2238.85 874.2h2.3V970.3h-2.3zM2262.85 874.95h2.3V899.55h-2.3zM2286.85 845.45h2.3V930.3h-2.3zM2292.85 736.1h2.3V842.05h-2.3zM2298.85 709.7h2.3V730.8h-2.3z" fill="#6fae8a"/>
<path d="M17.05 989h5.9V1055h-5.9zM29.05 937h5.9V941h-5.9zM35.05 939h5.9V1010.25h-5.9zM53.05 947.75h5.9V997.75h-5.9zM65.05 955.25h5.9V981.5h-5.9zM77.05 934h5.9V966.5h-5.9zM83.05 967.75h5.9V982h-5.9zM113.05 910.25h5.9V936h-5.9zM125.05 912.75h5.9V989h-5.9zM131.05 990h5.9V1036.25h-5.9zM137.05 1033.75h5.9V1048.75h-5.9zM143.05 1047.5h5.9V1062h-5.9zM155.05 1032.5h5.9V1098h-5.9zM179.05 1081.25h5.9V1220.5h-5.9zM191.05 1133.75h5.9V1173h-5.9zM221.05 963h5.9V1003h-5.9zM227.05 1007.5h5.9V1016.25h-5.9zM233.05 1015.5h5.9V1036.25h-5.9zM239.05 1035h5.9V1037.5h-5.9zM269.05 785h5.9V787.5h-5.9zM281.05 727h5.9V732h-5.9zM293.05 682.5h5.9V691.25h-5.9zM299.05 690.75h5.9V703h-5.9zM317.05 638.75h5.9V664.5h-5.9zM323.05 664.5h5.9V690h-5.9zM341.05 645.75h5.9V692.5h-5.9zM347.05 694.5h5.9V713.75h-5.9zM359.05 645.75h5.9V648.75h-5.9zM365.05 648.75h5.9V661.25h-5.9zM389.05 474.5h5.9V484.25h-5.9zM395.05 484.5h5.9V487h-5.9zM407.05 478.75h5.9V488h-5.9zM413.05 488h5.9V525h-5.9zM419.05 525.5h5.9V544.5h-5.9zM425.05 544.5h5.9V547h-5.9zM437.05 543.75h5.9V570.5h-5.9zM461.05 470.75h5.9V554.5h-5.9zM491.05 502.5h5.9V525.75h-5.9zM497.05 526.75h5.9V560.75h-5.9zM503.05 560h5.9V642h-5.9zM515.05 534.5h5.9V565.75h-5.9zM521.05 566.25h5.9V586.25h-5.9zM527.05 587h5.9V620h-5.9zM533.05 620.5h5.9V633.25h-5.9zM539.05 633.75h5.9V697.5h-5.9zM557.05 622.5h5.9V629.5h-5.9zM575.05 540.75h5.9V578.25h-5.9zM581.05 578.25h5.9V619.5h-5.9zM587.05 624.5h5.9V644.5h-5.9zM593.05 644.5h5.9V670.5h-5.9zM611.05 662h5.9V701.25h-5.9zM623.05 672.5h5.9V696.75h-5.9zM629.05 698.75h5.9V721.25h-5.9zM635.05 723.75h5.9V781.25h-5.9zM641.05 781.25h5.9V812.5h-5.9zM653.05 701.25h5.9V711.25h-5.9zM659.05 711.25h5.9V765h-5.9zM665.05 765h5.9V776.25h-5.9zM689.05 710h5.9V736.25h-5.9zM695.05 737.5h5.9V778h-5.9zM713.05 728.75h5.9V760h-5.9zM719.05 761.25h5.9V767h-5.9zM731.05 756.25h5.9V772h-5.9zM761.05 606.75h5.9V625h-5.9zM785.05 527.5h5.9V533.75h-5.9zM791.05 533h5.9V550h-5.9zM797.05 550.5h5.9V568.75h-5.9zM809.05 565h5.9V567.5h-5.9zM827.05 495.5h5.9V546.25h-5.9zM833.05 546.25h5.9V563.75h-5.9zM845.05 538.75h5.9V541.25h-5.9zM857.05 539.5h5.9V589.25h-5.9zM863.05 591.25h5.9V627h-5.9zM869.05 627.5h5.9V650h-5.9zM875.05 650.5h5.9V694.25h-5.9zM881.05 693.75h5.9V714.25h-5.9zM887.05 717.5h5.9V738h-5.9zM905.05 683.75h5.9V718.75h-5.9zM935.05 613.75h5.9V616.25h-5.9zM941.05 616.25h5.9V677.5h-5.9zM953.05 609.5h5.9V613.75h-5.9zM959.05 614.5h5.9V665.5h-5.9zM977.05 645.5h5.9V648h-5.9zM983.05 650.5h5.9V689.25h-5.9zM989.05 689.5h5.9V720h-5.9zM1001.05 693.75h5.9V732h-5.9zM1013.05 653.75h5.9V668.75h-5.9zM1019.05 668.75h5.9V675h-5.9zM1025.05 675.75h5.9V770.5h-5.9zM1037.05 737.5h5.9V746.25h-5.9zM1049.05 734.5h5.9V771.25h-5.9zM1061.05 765h5.9V783.75h-5.9zM1067.05 784.5h5.9V798h-5.9zM1085.05 762h5.9V786.25h-5.9zM1097.05 777h5.9V781.25h-5.9zM1115.05 714.5h5.9V735h-5.9zM1139.05 673.75h5.9V680h-5.9zM1145.05 680h5.9V700h-5.9zM1151.05 700.75h5.9V717.5h-5.9zM1175.05 673.75h5.9V710h-5.9zM1181.05 709.75h5.9V712.25h-5.9zM1187.05 711.25h5.9V738.75h-5.9zM1193.05 738.75h5.9V776.25h-5.9zM1199.05 777h5.9V801.25h-5.9zM1211.05 795.5h5.9V830h-5.9zM1223.05 823h5.9V828.25h-5.9zM1241.05 797.5h5.9V818h-5.9zM1259.05 760.75h5.9V768.75h-5.9zM1265.05 770h5.9V774.5h-5.9zM1271.05 774.5h5.9V785h-5.9zM1283.05 713.75h5.9V745h-5.9zM1301.05 707.5h5.9V847h-5.9zM1331.05 479.5h5.9V570h-5.9zM1337.05 570.5h5.9V638.75h-5.9zM1361.05 519.5h5.9V547.5h-5.9zM1367.05 549.5h5.9V630.5h-5.9zM1373.05 629.75h5.9V632.25h-5.9zM1385.05 622.25h5.9V624.75h-5.9zM1421.05 513.75h5.9V562h-5.9zM1439.05 418.25h5.9V432h-5.9zM1445.05 430.5h5.9V471.25h-5.9zM1451.05 473.25h5.9V591.25h-5.9zM1457.05 592.5h5.9V627h-5.9zM1475.05 594.5h5.9V662h-5.9zM1493.05 615.5h5.9V673.75h-5.9zM1499.05 665.5h5.9V705h-5.9zM1505.05 703h5.9V723h-5.9zM1511.05 727h5.9V733.75h-5.9zM1517.05 731.75h5.9V735.5h-5.9zM1523.05 738.75h5.9V767h-5.9zM1529.05 773.75h5.9V791.75h-5.9zM1541.05 743.75h5.9V758h-5.9zM1547.05 762.5h5.9V810.75h-5.9zM1553.05 810h5.9V881.25h-5.9zM1559.05 882h5.9V905h-5.9zM1571.05 831.75h5.9V845.75h-5.9zM1583.05 797.5h5.9V800h-5.9zM1589.05 800.5h5.9V833h-5.9zM1601.05 830h5.9V835h-5.9zM1607.05 835.5h5.9V855h-5.9zM1613.05 855h5.9V921.25h-5.9zM1631.05 838h5.9V850.5h-5.9zM1637.05 850h5.9V893h-5.9zM1649.05 871.75h5.9V888h-5.9zM1667.05 818.75h5.9V845h-5.9zM1679.05 832.5h5.9V848h-5.9zM1691.05 840h5.9V880.75h-5.9zM1697.05 880.75h5.9V910h-5.9zM1703.05 911.75h5.9V934.5h-5.9zM1709.05 934.5h5.9V1008h-5.9zM1715.05 1010.5h5.9V1077.5h-5.9zM1727.05 1042h5.9V1050h-5.9zM1733.05 1051.25h5.9V1068.75h-5.9zM1745.05 1066.25h5.9V1095h-5.9zM1763.05 1078.75h5.9V1090.5h-5.9zM1775.05 1056.75h5.9V1059.25h-5.9zM1781.05 1060h5.9V1081.25h-5.9zM1793.05 1070h5.9V1078h-5.9zM1823.05 913.75h5.9V916.25h-5.9zM1835.05 844.5h5.9V907h-5.9zM1847.05 870h5.9V878.75h-5.9zM1853.05 878.75h5.9V881.25h-5.9zM1865.05 861h5.9V878.75h-5.9zM1877.05 840.5h5.9V852.5h-5.9zM1883.05 853.75h5.9V885.5h-5.9zM1889.05 883.75h5.9V887h-5.9zM1895.05 888.75h5.9V898.75h-5.9zM1901.05 898.75h5.9V933.25h-5.9zM1907.05 938.75h5.9V960.75h-5.9zM1913.05 960.75h5.9V1025h-5.9zM1925.05 998h5.9V1008h-5.9zM1931.05 1008.75h5.9V1014.5h-5.9zM1943.05 1012h5.9V1061.25h-5.9zM1967.05 1012.5h5.9V1070h-5.9zM1973.05 1071.75h5.9V1093h-5.9zM1979.05 1093.75h5.9V1162h-5.9zM1985.05 1160.5h5.9V1198.75h-5.9zM1997.05 1155h5.9V1180h-5.9zM2003.05 1180.75h5.9V1204.25h-5.9zM2009.05 1203.75h5.9V1330.5h-5.9zM2021.05 1268.75h5.9V1293.75h-5.9zM2027.05 1295.5h5.9V1310h-5.9zM2033.05 1313.75h5.9V1335h-5.9zM2039.05 1333.75h5.9V1359.25h-5.9zM2045.05 1359.5h5.9V1404.25h-5.9zM2069.05 1189.5h5.9V1216.25h-5.9zM2081.05 1156.25h5.9V1185.5h-5.9zM2087.05 1186.25h5.9V1220h-5.9zM2093.05 1223.75h5.9V1249.25h-5.9zM2111.05 1228.75h5.9V1266.25h-5.9zM2117.05 1266.25h5.9V1283h-5.9zM2123.05 1280.5h5.9V1294.25h-5.9zM2141.05 1215.5h5.9V1252h-5.9zM2153.05 1221.75h5.9V1249.25h-5.9zM2165.05 1206.25h5.9V1223h-5.9zM2177.05 1206.25h5.9V1211.25h-5.9zM2183.05 1211.25h5.9V1248h-5.9zM2189.05 1248.75h5.9V1256.25h-5.9zM2243.05 871.25h5.9V878h-5.9zM2249.05 883.75h5.9V893h-5.9zM2255.05 893h5.9V902h-5.9zM2267.05 873.25h5.9V908h-5.9zM2273.05 910.5h5.9V916.25h-5.9zM2279.05 928.75h5.9V935.5h-5.9zM2303.05 716.25h5.9V728.5h-5.9z" fill="#5c1812"/>
<path d="M18.85 990.7h2.3V1053.3h-2.3zM30.85 938.7h2.3V939.3h-2.3zM36.85 940.7h2.3V1008.55h-2.3zM54.85 949.45h2.3V996.05h-2.3zM66.85 956.95h2.3V979.8h-2.3zM78.85 935.7h2.3V964.8h-2.3zM84.85 969.45h2.3V980.3h-2.3zM114.85 911.95h2.3V934.3h-2.3zM126.85 914.45h2.3V987.3h-2.3zM132.85 991.7h2.3V1034.55h-2.3zM138.85 1035.45h2.3V1047.05h-2.3zM144.85 1049.2h2.3V1060.3h-2.3zM156.85 1034.2h2.3V1096.3h-2.3zM180.85 1082.95h2.3V1218.8h-2.3zM192.85 1135.45h2.3V1171.3h-2.3zM222.85 964.7h2.3V1001.3h-2.3zM228.85 1009.2h2.3V1014.55h-2.3zM234.85 1017.2h2.3V1034.55h-2.3zM282.85 728.7h2.3V730.3h-2.3zM294.85 684.2h2.3V689.55h-2.3zM300.85 692.45h2.3V701.3h-2.3zM318.85 640.45h2.3V662.8h-2.3zM324.85 666.2h2.3V688.3h-2.3zM342.85 647.45h2.3V690.8h-2.3zM348.85 696.2h2.3V712.05h-2.3zM366.85 650.45h2.3V659.55h-2.3zM390.85 476.2h2.3V482.55h-2.3zM408.85 480.45h2.3V486.3h-2.3zM414.85 489.7h2.3V523.3h-2.3zM420.85 527.2h2.3V542.8h-2.3zM438.85 545.45h2.3V568.8h-2.3zM462.85 472.45h2.3V552.8h-2.3zM492.85 504.2h2.3V524.05h-2.3zM498.85 528.45h2.3V559.05h-2.3zM504.85 561.7h2.3V640.3h-2.3zM516.85 536.2h2.3V564.05h-2.3zM522.85 567.95h2.3V584.55h-2.3zM528.85 588.7h2.3V618.3h-2.3zM534.85 622.2h2.3V631.55h-2.3zM540.85 635.45h2.3V695.8h-2.3zM558.85 624.2h2.3V627.8h-2.3zM576.85 542.45h2.3V576.55h-2.3zM582.85 579.95h2.3V617.8h-2.3zM588.85 626.2h2.3V642.8h-2.3zM594.85 646.2h2.3V668.8h-2.3zM612.85 663.7h2.3V699.55h-2.3zM624.85 674.2h2.3V695.05h-2.3zM630.85 700.45h2.3V719.55h-2.3zM636.85 725.45h2.3V779.55h-2.3zM642.85 782.95h2.3V810.8h-2.3zM654.85 702.95h2.3V709.55h-2.3zM660.85 712.95h2.3V763.3h-2.3zM666.85 766.7h2.3V774.55h-2.3zM690.85 711.7h2.3V734.55h-2.3zM696.85 739.2h2.3V776.3h-2.3zM714.85 730.45h2.3V758.3h-2.3zM720.85 762.95h2.3V765.3h-2.3zM732.85 757.95h2.3V770.3h-2.3zM762.85 608.45h2.3V623.3h-2.3zM786.85 529.2h2.3V532.05h-2.3zM792.85 534.7h2.3V548.3h-2.3zM798.85 552.2h2.3V567.05h-2.3zM828.85 497.2h2.3V544.55h-2.3zM834.85 547.95h2.3V562.05h-2.3zM858.85 541.2h2.3V587.55h-2.3zM864.85 592.95h2.3V625.3h-2.3zM870.85 629.2h2.3V648.3h-2.3zM876.85 652.2h2.3V692.55h-2.3zM882.85 695.45h2.3V712.55h-2.3zM888.85 719.2h2.3V736.3h-2.3zM906.85 685.45h2.3V717.05h-2.3zM942.85 617.95h2.3V675.8h-2.3zM954.85 611.2h2.3V612.05h-2.3zM960.85 616.2h2.3V663.8h-2.3zM984.85 652.2h2.3V687.55h-2.3zM990.85 691.2h2.3V718.3h-2.3zM1002.85 695.45h2.3V730.3h-2.3zM1014.85 655.45h2.3V667.05h-2.3zM1020.85 670.45h2.3V673.3h-2.3zM1026.85 677.45h2.3V768.8h-2.3zM1038.85 739.2h2.3V744.55h-2.3zM1050.85 736.2h2.3V769.55h-2.3zM1062.85 766.7h2.3V782.05h-2.3zM1068.85 786.2h2.3V796.3h-2.3zM1086.85 763.7h2.3V784.55h-2.3zM1098.85 778.7h2.3V779.55h-2.3zM1116.85 716.2h2.3V733.3h-2.3zM1140.85 675.45h2.3V678.3h-2.3zM1146.85 681.7h2.3V698.3h-2.3zM1152.85 702.45h2.3V715.8h-2.3zM1176.85 675.45h2.3V708.3h-2.3zM1188.85 712.95h2.3V737.05h-2.3zM1194.85 740.45h2.3V774.55h-2.3zM1200.85 778.7h2.3V799.55h-2.3zM1212.85 797.2h2.3V828.3h-2.3zM1224.85 824.7h2.3V826.55h-2.3zM1242.85 799.2h2.3V816.3h-2.3zM1260.85 762.45h2.3V767.05h-2.3zM1266.85 771.7h2.3V772.8h-2.3zM1272.85 776.2h2.3V783.3h-2.3zM1284.85 715.45h2.3V743.3h-2.3zM1302.85 709.2h2.3V845.3h-2.3zM1332.85 481.2h2.3V568.3h-2.3zM1338.85 572.2h2.3V637.05h-2.3zM1362.85 521.2h2.3V545.8h-2.3zM1368.85 551.2h2.3V628.8h-2.3zM1422.85 515.45h2.3V560.3h-2.3zM1440.85 419.95h2.3V430.3h-2.3zM1446.85 432.2h2.3V469.55h-2.3zM1452.85 474.95h2.3V589.55h-2.3zM1458.85 594.2h2.3V625.3h-2.3zM1476.85 596.2h2.3V660.3h-2.3zM1494.85 617.2h2.3V672.05h-2.3zM1500.85 667.2h2.3V703.3h-2.3zM1506.85 704.7h2.3V721.3h-2.3zM1512.85 728.7h2.3V732.05h-2.3zM1518.85 733.45h2.3V733.8h-2.3zM1524.85 740.45h2.3V765.3h-2.3zM1530.85 775.45h2.3V790.05h-2.3zM1542.85 745.45h2.3V756.3h-2.3zM1548.85 764.2h2.3V809.05h-2.3zM1554.85 811.7h2.3V879.55h-2.3zM1560.85 883.7h2.3V903.3h-2.3zM1572.85 833.45h2.3V844.05h-2.3zM1590.85 802.2h2.3V831.3h-2.3zM1602.85 831.7h2.3V833.3h-2.3zM1608.85 837.2h2.3V853.3h-2.3zM1614.85 856.7h2.3V919.55h-2.3zM1632.85 839.7h2.3V848.8h-2.3zM1638.85 851.7h2.3V891.3h-2.3zM1650.85 873.45h2.3V886.3h-2.3zM1668.85 820.45h2.3V843.3h-2.3zM1680.85 834.2h2.3V846.3h-2.3zM1692.85 841.7h2.3V879.05h-2.3zM1698.85 882.45h2.3V908.3h-2.3zM1704.85 913.45h2.3V932.8h-2.3zM1710.85 936.2h2.3V1006.3h-2.3zM1716.85 1012.2h2.3V1075.8h-2.3zM1728.85 1043.7h2.3V1048.3h-2.3zM1734.85 1052.95h2.3V1067.05h-2.3zM1746.85 1067.95h2.3V1093.3h-2.3zM1764.85 1080.45h2.3V1088.8h-2.3zM1782.85 1061.7h2.3V1079.55h-2.3zM1794.85 1071.7h2.3V1076.3h-2.3zM1836.85 846.2h2.3V905.3h-2.3zM1848.85 871.7h2.3V877.05h-2.3zM1866.85 862.7h2.3V877.05h-2.3zM1878.85 842.2h2.3V850.8h-2.3zM1884.85 855.45h2.3V883.8h-2.3zM1896.85 890.45h2.3V897.05h-2.3zM1902.85 900.45h2.3V931.55h-2.3zM1908.85 940.45h2.3V959.05h-2.3zM1914.85 962.45h2.3V1023.3h-2.3zM1926.85 999.7h2.3V1006.3h-2.3zM1932.85 1010.45h2.3V1012.8h-2.3zM1944.85 1013.7h2.3V1059.55h-2.3zM1968.85 1014.2h2.3V1068.3h-2.3zM1974.85 1073.45h2.3V1091.3h-2.3zM1980.85 1095.45h2.3V1160.3h-2.3zM1986.85 1162.2h2.3V1197.05h-2.3zM1998.85 1156.7h2.3V1178.3h-2.3zM2004.85 1182.45h2.3V1202.55h-2.3zM2010.85 1205.45h2.3V1328.8h-2.3zM2022.85 1270.45h2.3V1292.05h-2.3zM2028.85 1297.2h2.3V1308.3h-2.3zM2034.85 1315.45h2.3V1333.3h-2.3zM2040.85 1335.45h2.3V1357.55h-2.3zM2046.85 1361.2h2.3V1402.55h-2.3zM2070.85 1191.2h2.3V1214.55h-2.3zM2082.85 1157.95h2.3V1183.8h-2.3zM2088.85 1187.95h2.3V1218.3h-2.3zM2094.85 1225.45h2.3V1247.55h-2.3zM2112.85 1230.45h2.3V1264.55h-2.3zM2118.85 1267.95h2.3V1281.3h-2.3zM2124.85 1282.2h2.3V1292.55h-2.3zM2142.85 1217.2h2.3V1250.3h-2.3zM2154.85 1223.45h2.3V1247.55h-2.3zM2166.85 1207.95h2.3V1221.3h-2.3zM2178.85 1207.95h2.3V1209.55h-2.3zM2184.85 1212.95h2.3V1246.3h-2.3zM2190.85 1250.45h2.3V1254.55h-2.3zM2244.85 872.95h2.3V876.3h-2.3zM2250.85 885.45h2.3V891.3h-2.3zM2256.85 894.7h2.3V900.3h-2.3zM2268.85 874.95h2.3V906.3h-2.3zM2274.85 912.2h2.3V914.55h-2.3zM2280.85 930.45h2.3V933.8h-2.3zM2304.85 717.95h2.3V726.8h-2.3z" fill="#e35b42"/>
<path d="M19.8 728H2582" stroke="#d4513c" stroke-width="2" stroke-dasharray="2.1 3.9"/>
</g>
<circle cx="2336.1" cy="1471.95" r="20.4" fill="#fff" stroke="#ef2b3e" stroke-width="3.1"/>
<g clip-path="url(#cf)">
<rect x="2319.1" y="1454.95" width="34" height="34" fill="#f8f9fd"/>
<rect x="2319.1" y="1455.45" width="34" height="7.3" fill="#ee5250"/>
<rect x="2319.1" y="1468.15" width="34" height="7.5" fill="#ee5250"/>
<rect x="2319.1" y="1480.85" width="34" height="7.6" fill="#ee5250"/>
<rect x="2319.1" y="1454.95" width="20.8" height="20.7" fill="#197de1"/>
<polygon points="2330.2,1458.55 2330.7,1459.76 2332.01,1459.86 2331.01,1460.71 2331.32,1461.99 2330.2,1461.31 2329.08,1461.99 2329.39,1460.71 2328.39,1459.86 2329.7,1459.76" fill="#fff"/>
<polygon points="2335.6,1458.55 2336.1,1459.76 2337.41,1459.86 2336.41,1460.71 2336.72,1461.99 2335.6,1461.31 2334.48,1461.99 2334.79,1460.71 2333.79,1459.86 2335.1,1459.76" fill="#fff"/>
<polygon points="2324.8,1463.85 2325.3,1465.06 2326.61,1465.16 2325.61,1466.01 2325.92,1467.29 2324.8,1466.61 2323.68,1467.29 2323.99,1466.01 2322.99,1465.16 2324.3,1465.06" fill="#fff"/>
<polygon points="2330.2,1463.85 2330.7,1465.06 2332.01,1465.16 2331.01,1466.01 2331.32,1467.29 2330.2,1466.61 2329.08,1467.29 2329.39,1466.01 2328.39,1465.16 2329.7,1465.06" fill="#fff"/>
<polygon points="2335.6,1463.85 2336.1,1465.06 2337.41,1465.16 2336.41,1466.01 2336.72,1467.29 2335.6,1466.61 2334.48,1467.29 2334.79,1466.01 2333.79,1465.16 2335.1,1465.06" fill="#fff"/>
<polygon points="2324.8,1469.05 2325.3,1470.26 2326.61,1470.36 2325.61,1471.21 2325.92,1472.49 2324.8,1471.81 2323.68,1472.49 2323.99,1471.21 2322.99,1470.36 2324.3,1470.26" fill="#fff"/>
<polygon points="2330.2,1469.05 2330.7,1470.26 2332.01,1470.36 2331.01,1471.21 2331.32,1472.49 2330.2,1471.81 2329.08,1472.49 2329.39,1471.21 2328.39,1470.36 2329.7,1470.26" fill="#fff"/>
<polygon points="2335.6,1469.05 2336.1,1470.26 2337.41,1470.36 2336.41,1471.21 2336.72,1472.49 2335.6,1471.81 2334.48,1472.49 2334.79,1471.21 2333.79,1470.36 2335.1,1470.26" fill="#fff"/>
</g>
<rect x="20" y="291" width="2730" height="2" fill="#2e3038"/>
<rect x="20" y="1498" width="2730" height="2" fill="#4c4c4c"/>
<rect x="2582" y="54" width="2" height="1500" fill="#4c4c4c"/>
<rect x="20" y="54" width="1" height="1500" fill="#7f7a76"/>
<rect x="20" y="54" width="2730" height="1" fill="#7f7a76"/>
<text x="2600" y="75.2" font-size="23.8" fill="#4e4e50" stroke="#4e4e50" stroke-width="0.35" textLength="61" lengthAdjust="spacingAndGlyphs">80.00</text>
<text x="2600" y="150.7" font-size="23.8" fill="#4e4e50" stroke="#4e4e50" stroke-width="0.35" textLength="61" lengthAdjust="spacingAndGlyphs">60.00</text>
<text x="2600" y="226.2" font-size="23.8" fill="#4e4e50" stroke="#4e4e50" stroke-width="0.35" textLength="61" lengthAdjust="spacingAndGlyphs">40.00</text>
<text x="2600.2" y="382.6" font-size="23.8" fill="#4e4e50" stroke="#4e4e50" stroke-width="0.35" textLength="130" lengthAdjust="spacingAndGlyphs">525.000000</text>
<text x="2600.2" y="446.32" font-size="23.8" fill="#4e4e50" stroke="#4e4e50" stroke-width="0.35" textLength="130" lengthAdjust="spacingAndGlyphs">485.000000</text>
<text x="2600.2" y="515.52" font-size="23.8" fill="#4e4e50" stroke="#4e4e50" stroke-width="0.35" textLength="130" lengthAdjust="spacingAndGlyphs">445.000000</text>
<text x="2600.2" y="591.25" font-size="23.8" fill="#4e4e50" stroke="#4e4e50" stroke-width="0.35" textLength="130" lengthAdjust="spacingAndGlyphs">405.000000</text>
<text x="2600.2" y="674.85" font-size="23.8" fill="#4e4e50" stroke="#4e4e50" stroke-width="0.35" textLength="130" lengthAdjust="spacingAndGlyphs">365.000000</text>
<text x="2600.2" y="846.04" font-size="23.8" fill="#4e4e50" stroke="#4e4e50" stroke-width="0.35" textLength="130" lengthAdjust="spacingAndGlyphs">295.000000</text>
<text x="2600.2" y="902.49" font-size="23.8" fill="#4e4e50" stroke="#4e4e50" stroke-width="0.35" textLength="130" lengthAdjust="spacingAndGlyphs">275.000000</text>
<text x="2600.2" y="963.2" font-size="23.8" fill="#4e4e50" stroke="#4e4e50" stroke-width="0.35" textLength="130" lengthAdjust="spacingAndGlyphs">255.000000</text>
<text x="2600.2" y="1028.87" font-size="23.8" fill="#4e4e50" stroke="#4e4e50" stroke-width="0.35" textLength="130" lengthAdjust="spacingAndGlyphs">235.000000</text>
<text x="2600.2" y="1100.38" font-size="23.8" fill="#4e4e50" stroke="#4e4e50" stroke-width="0.35" textLength="130" lengthAdjust="spacingAndGlyphs">215.000000</text>
<text x="2600.2" y="1162.56" font-size="23.8" fill="#4e4e50" stroke="#4e4e50" stroke-width="0.35" textLength="130" lengthAdjust="spacingAndGlyphs">199.000000</text>
<text x="2600.2" y="1229.95" font-size="23.8" fill="#4e4e50" stroke="#4e4e50" stroke-width="0.35" textLength="130" lengthAdjust="spacingAndGlyphs">183.000000</text>
<text x="2600.2" y="1286.83" font-size="23.8" fill="#4e4e50" stroke="#4e4e50" stroke-width="0.35" textLength="130" lengthAdjust="spacingAndGlyphs">170.500000</text>
<text x="2600.2" y="1345.51" font-size="23.8" fill="#4e4e50" stroke="#4e4e50" stroke-width="0.35" textLength="130" lengthAdjust="spacingAndGlyphs">158.500000</text>
<text x="2600.2" y="1408.8" font-size="23.8" fill="#4e4e50" stroke="#4e4e50" stroke-width="0.35" textLength="130" lengthAdjust="spacingAndGlyphs">146.500000</text>
<text x="2600.2" y="1465.65" font-size="23.8" fill="#4e4e50" stroke="#4e4e50" stroke-width="0.35" textLength="130" lengthAdjust="spacingAndGlyphs">136.500000</text>
<rect x="2590.3" y="301.2" width="151.8" height="51.6" rx="8" fill="#fff"/>
<text x="2608.5" y="335.4" font-size="24.3" fill="#0a0a0a" stroke="#0a0a0a" stroke-width="0.35" textLength="49.5" lengthAdjust="spacingAndGlyphs">USD</text>
<path d="M2479.3 712H2583V743.7H2479.3A4 4 0 0 1 2475.3 739.7V716A4 4 0 0 1 2479.3 712Z" fill="#d75442"/>
<path d="M2583 712H2738.9A4 4 0 0 1 2742.9 716V765.6A4 4 0 0 1 2738.9 769.6H2583Z" fill="#d75442"/>
<rect x="2582" y="712" width="2" height="57.6" fill="#4c4c4c"/>
<text x="2485" y="736.3" font-size="24" fill="#fff" stroke="#fff" stroke-width="0.35" textLength="87.8" lengthAdjust="spacingAndGlyphs">TAOUSD</text>
<text x="2600.5" y="737" font-size="23.8" fill="#fff" stroke="#fff" stroke-width="0.35" textLength="129.5" lengthAdjust="spacingAndGlyphs">338.370431</text>
<text x="2601" y="762.4" font-size="23.8" fill="#fbd5cf" stroke="#fbd5cf" stroke-width="0.35" textLength="93" lengthAdjust="spacingAndGlyphs">10:59:17</text>
<text x="152" y="1534" font-size="23.4" fill="#4e4e50" stroke="#4e4e50" stroke-width="0.35" text-anchor="middle">Apr</text>
<text x="332" y="1534" font-size="23.4" fill="#4e4e50" stroke="#4e4e50" stroke-width="0.35" text-anchor="middle">May</text>
<text x="518" y="1534" font-size="23.4" fill="#4e4e50" stroke="#4e4e50" stroke-width="0.35" text-anchor="middle">Jun</text>
<text x="698" y="1534" font-size="23.4" fill="#4e4e50" stroke="#4e4e50" stroke-width="0.35" text-anchor="middle">Jul</text>
<text x="884" y="1534" font-size="23.4" fill="#4e4e50" stroke="#4e4e50" stroke-width="0.35" text-anchor="middle">Aug</text>
<text x="1070" y="1534" font-size="23.4" fill="#4e4e50" stroke="#4e4e50" stroke-width="0.35" text-anchor="middle">Sep</text>
<text x="1250" y="1534" font-size="23.4" fill="#4e4e50" stroke="#4e4e50" stroke-width="0.35" text-anchor="middle">Oct</text>
<text x="1436" y="1534" font-size="23.4" fill="#4e4e50" stroke="#4e4e50" stroke-width="0.35" text-anchor="middle">Nov</text>
<text x="1616" y="1534" font-size="23.4" fill="#4e4e50" stroke="#4e4e50" stroke-width="0.35" text-anchor="middle">Dec</text>
<text x="1802" y="1534" font-size="23.4" fill="#3a3a3a" text-anchor="middle" font-weight="bold">2026</text>
<text x="1988" y="1534" font-size="23.4" fill="#4e4e50" stroke="#4e4e50" stroke-width="0.35" text-anchor="middle">Feb</text>
<text x="2156" y="1534" font-size="23.4" fill="#4e4e50" stroke="#4e4e50" stroke-width="0.35" text-anchor="middle">Mar</text>
<text x="2342" y="1534" font-size="23.4" fill="#4e4e50" stroke="#4e4e50" stroke-width="0.35" text-anchor="middle">Apr</text>
<text x="2522" y="1534" font-size="23.4" fill="#4e4e50" stroke="#4e4e50" stroke-width="0.35" text-anchor="middle">May</text>
<text x="20.7" y="39.8" font-size="24.5" fill="#dcdcdc" stroke="#dcdcdc" stroke-width="0.35" textLength="786" lengthAdjust="spacingAndGlyphs">bitcoinwallah created with TradingView.com, Mar 26, 2026 13:00 UTC</text>
<text x="36.9" y="94" font-size="24.5" fill="#4e4e50" stroke="#4e4e50" stroke-width="0.35" textLength="160" lengthAdjust="spacingAndGlyphs">RSI (14, close)</text>
<text x="212" y="94" font-size="24" fill="#7e57c2" stroke="#7e57c2" stroke-width="0.35" textLength="63" lengthAdjust="spacingAndGlyphs">76.08</text>
<text x="289.5" y="94" font-size="24" fill="#fdd835" stroke="#fdd835" stroke-width="0.35" textLength="62.5" lengthAdjust="spacingAndGlyphs">74.26</text>
<text x="37.1" y="332.8" font-size="24.4" fill="#4e4e50" stroke="#4e4e50" stroke-width="0.35" textLength="332" lengthAdjust="spacingAndGlyphs">TAO / US Dollar · 1D · Binance</text>
<text x="384.2" y="332.8" font-size="24.4" fill="#4e4e50" stroke="#4e4e50" stroke-width="0.35" textLength="158.1" lengthAdjust="spacingAndGlyphs">O<tspan fill="#5c1a12" stroke="#5c1a12">343.662845</tspan></text>
<text x="557.5" y="332.8" font-size="24.4" fill="#4e4e50" stroke="#4e4e50" stroke-width="0.35" textLength="156.3" lengthAdjust="spacingAndGlyphs">H<tspan fill="#5c1a12" stroke="#5c1a12">359.242303</tspan></text>
<text x="729.3" y="332.8" font-size="24.4" fill="#4e4e50" stroke="#4e4e50" stroke-width="0.35" textLength="150" lengthAdjust="spacingAndGlyphs">L<tspan fill="#5c1a12" stroke="#5c1a12">330.979932</tspan></text>
<text x="895" y="332.8" font-size="24.4" fill="#4e4e50" stroke="#4e4e50" stroke-width="0.35" textLength="151.5" lengthAdjust="spacingAndGlyphs">C<tspan fill="#5c1a12" stroke="#5c1a12">338.370431</tspan></text>
<text x="1061.3" y="332.8" font-size="24.4" fill="#5c1a12" stroke="#5c1a12" stroke-width="0.35" textLength="234.5" lengthAdjust="spacingAndGlyphs">−8.738269 (−2.52%)</text>
<text x="37.1" y="366.7" font-size="24.4" fill="#4e4e50" stroke="#4e4e50" stroke-width="0.35" textLength="191.3" lengthAdjust="spacingAndGlyphs">EMA (200, close)</text>
<text x="245" y="366.7" font-size="24.4" fill="#2962ff" stroke="#2962ff" stroke-width="0.35" textLength="131" lengthAdjust="spacingAndGlyphs">270.473158</text>
<text x="37.1" y="400.4" font-size="24.4" fill="#4e4e50" stroke="#4e4e50" stroke-width="0.35" textLength="101" lengthAdjust="spacingAndGlyphs">Vol · TAO</text>
<text x="153.3" y="400.4" font-size="24.4" fill="#ef4f4f" stroke="#ef4f4f" stroke-width="0.35" textLength="65" lengthAdjust="spacingAndGlyphs">1.56 K</text>
<text x="37.1" y="434" font-size="24.4" fill="#4e4e50" stroke="#4e4e50" stroke-width="0.35" textLength="176.1" lengthAdjust="spacingAndGlyphs">EMA (20, close)</text>
<text x="229.7" y="434" font-size="24.4" fill="#056b54" stroke="#056b54" stroke-width="0.35" textLength="138.6" lengthAdjust="spacingAndGlyphs">269.698323</text>
<path d="M23.9 1597.9H48.1V1627.7H36.1V1610H23.9Z" fill="#dadada"/>
<circle cx="57.8" cy="1604" r="6.1" fill="#dadada"/>
<path d="M68 1597.9H83.8L73 1627.7H57.8Z" fill="#dadada"/>
<text x="98" y="1627.7" font-size="41" fill="#dadada" textLength="242" lengthAdjust="spacingAndGlyphs" font-weight="bold">TradingView</text>
</svg>
</body></html>
